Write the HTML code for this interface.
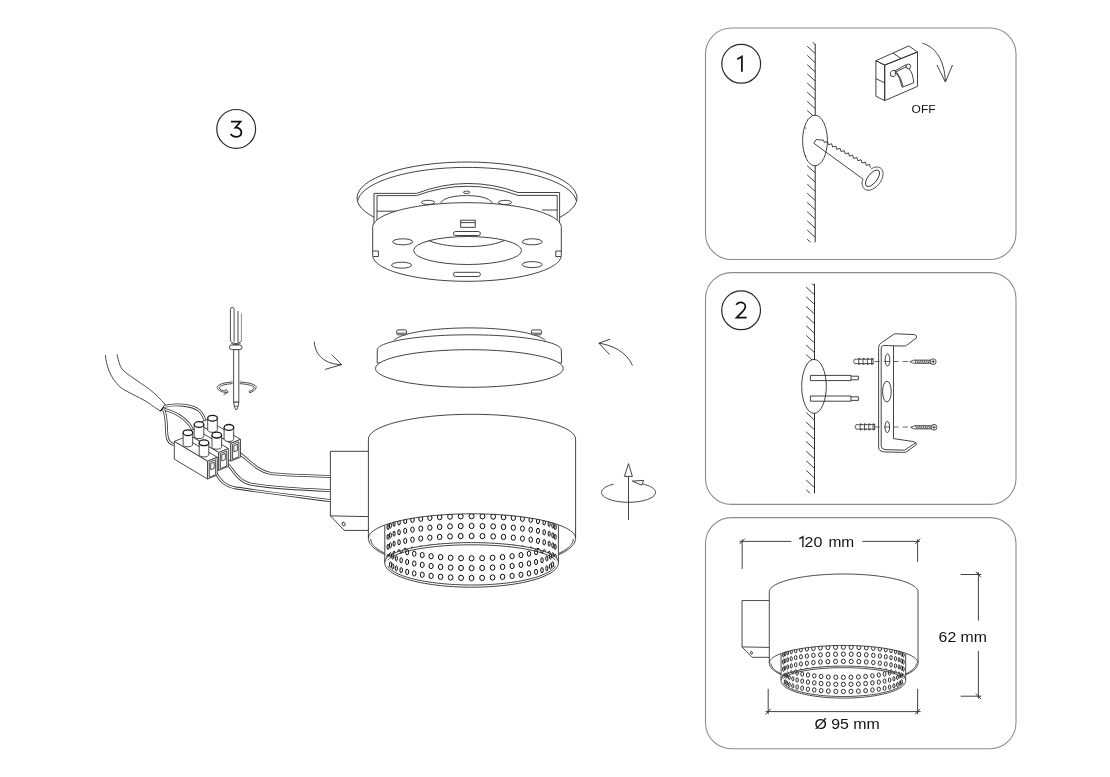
<!DOCTYPE html>
<html><head><meta charset="utf-8"><style>
html,body{margin:0;padding:0;background:#fff;}
body{width:1110px;height:777px;overflow:hidden;}
svg{display:block;will-change:transform;}
text{font-family:"Liberation Sans",sans-serif;}
</style></head><body>
<svg width="1110" height="777" viewBox="0 0 1110 777">
<g fill="none" stroke="#8c8c8c" stroke-width="1.1">
<rect x="705.5" y="28" width="310.5" height="231.5" rx="26" ry="26"/>
<rect x="705.5" y="272.6" width="310.5" height="231.8" rx="26" ry="26"/>
<rect x="705.5" y="517.6" width="310.5" height="231.2" rx="26" ry="26"/>
</g>
<g fill="none" stroke="#2a2a2a" stroke-width="1.2">
<circle cx="236.2" cy="128.9" r="19.4"/>
<circle cx="741.2" cy="63.8" r="19.4"/>
<circle cx="741.1" cy="310.3" r="19.4"/>
</g>
<g fill="none" stroke="#111" stroke-width="1.75" stroke-linejoin="miter">
<path d="M737.3,59.3 L741.9,56.5 V71.8"/>
<path d="M736.2,304.7 C737.2,303.0 738.6,302.3 740.4,302.3 C743.4,302.3 745.4,304.2 745.4,306.6 C745.4,308.4 744.4,309.8 743.0,311.2 L736.6,317.6 H746.7"/>
<path d="M231.0,121.7 H240.5 L235.3,127.7 C239.2,127.5 241.4,129.7 241.4,132.3 C241.4,135.1 239.1,136.8 236.1,136.8 C233.7,136.8 231.7,135.8 230.6,134.1"/>
</g>
<defs><clipPath id="w1"><rect x="800" y="42" width="20" height="200.3"/></clipPath></defs>
<g stroke="#2e2e2e" stroke-width="0.9" fill="none" clip-path="url(#w1)">
<line x1="807.2" y1="46.2" x2="815.2" y2="53.5" />
<line x1="807.2" y1="55.39" x2="815.2" y2="62.69" />
<line x1="807.2" y1="64.58" x2="815.2" y2="71.88" />
<line x1="807.2" y1="73.77" x2="815.2" y2="81.07" />
<line x1="807.2" y1="82.96" x2="815.2" y2="90.26" />
<line x1="807.2" y1="92.15" x2="815.2" y2="99.45" />
<line x1="807.2" y1="101.34" x2="815.2" y2="108.64" />
<line x1="807.2" y1="110.53" x2="815.2" y2="117.83" />
<line x1="807.2" y1="119.72" x2="815.2" y2="127.02" />
<line x1="807.2" y1="128.91" x2="815.2" y2="136.21" />
<line x1="807.2" y1="138.1" x2="815.2" y2="145.4" />
<line x1="807.2" y1="147.29" x2="815.2" y2="154.59" />
<line x1="807.2" y1="156.48" x2="815.2" y2="163.78" />
<line x1="807.2" y1="165.67" x2="815.2" y2="172.97" />
<line x1="807.2" y1="174.86" x2="815.2" y2="182.16" />
<line x1="807.2" y1="184.05" x2="815.2" y2="191.35" />
<line x1="807.2" y1="193.24" x2="815.2" y2="200.54" />
<line x1="807.2" y1="202.43" x2="815.2" y2="209.73" />
<line x1="807.2" y1="211.62" x2="815.2" y2="218.92" />
<line x1="807.2" y1="220.81" x2="815.2" y2="228.11" />
<line x1="807.2" y1="230" x2="815.2" y2="237.3" />
<line x1="807.2" y1="239.19" x2="815.2" y2="246.49" />
<line x1="812.4" y1="42.1" x2="815.2" y2="44.7" />
</g>
<line x1="815.2" y1="43.9" x2="815.2" y2="242.3" stroke="#2e2e2e" stroke-width="1"/>
<ellipse cx="815" cy="140.5" rx="12.4" ry="25.3" fill="#fff" stroke="#2e2e2e" stroke-width="0.9"/>
<line x1="804.6" y1="127.2" x2="806.4" y2="128.8" stroke="#2e2e2e" stroke-width="0.8"/>
<line x1="804.6" y1="154.6" x2="806.4" y2="156.2" stroke="#2e2e2e" stroke-width="0.8"/>
<g stroke="#2e2e2e" stroke-width="0.9" fill="none">
<path d="M813.8,143.2 L816.1,139.6 L823.6,140.2 L824.2,142.4 L827.5,141.48 L828.4,144.69 L831.7,143.77 L832.6,146.98 L835.9,146.06 L836.8,149.27 L840.1,148.35 L841,151.56 L844.3,150.65 L845.2,153.85 L848.5,152.94 L849.4,156.15 L852.7,155.23 L853.6,158.44 L856.9,157.52 L857.8,160.73 L861.1,159.81 L862,163.02 L865.3,162.1 L866.2,165.31 L869.5,164.39 L870.4,167.6"/>
<line x1="813.8" y1="143.2" x2="863.1" y2="179.2" />
</g>
<path stroke="#2e2e2e" stroke-width="0.9" fill="none" d="M871.18,168.86 L871.86,168.47 L872.54,168.13 L873.22,167.82 L873.9,167.57 L874.58,167.36 L875.24,167.2 L875.9,167.09 L876.54,167.03 L877.16,167.01 L877.76,167.05 L878.35,167.14 L878.9,167.27 L879.43,167.45 L879.93,167.69 L880.4,167.97 L880.84,168.29 L881.24,168.66 L881.6,169.07 L881.93,169.52 L882.21,170.01 L882.46,170.54 L882.66,171.1 L882.82,171.69 L882.93,172.32 L883.01,172.97 L883.03,173.64 L883.01,174.34 L882.95,175.05 L882.84,175.78 L882.69,176.52 L882.5,177.27 L882.26,178.03 L881.98,178.78 L881.66,179.54 L881.31,180.3 L880.91,181.04 L880.48,181.78 L880.02,182.5 L879.52,183.21 L879,183.89 L878.45,184.55 L877.87,185.19 L877.27,185.8 L876.65,186.38 L876.01,186.92 L875.36,187.43 L874.69,187.91 L874.02,188.34 L873.34,188.73 L872.66,189.07 L871.98,189.38 L871.3,189.63 L870.62,189.84 L869.96,190 L869.3,190.11 L868.66,190.17 L868.04,190.19 L867.44,190.15 L866.85,190.06 L866.3,189.93 L865.77,189.75 L865.27,189.51 L864.8,189.23 L864.36,188.91 L863.96,188.54 L863.6,188.13 L863.27,187.68 L862.99,187.19 L862.74,186.66 L862.54,186.1 L862.38,185.51 L862.27,184.88 L862.19,184.23 L862.17,183.56 L862.19,182.86 L862.25,182.15 L862.36,181.42 L862.51,180.68 L862.7,179.93 L862.94,179.17"/>
<g stroke="#2e2e2e" stroke-width="0.9" fill="none" transform="translate(872.5,178.3) rotate(-52)">
<ellipse cx="0" cy="0" rx="9.9" ry="4.6"/>
</g>
<g stroke="#2e2e2e" stroke-width="0.9" fill="none" stroke-linejoin="round">
<polygon points="884.7,65.1 917.5,52 917.5,86.4 884.7,100.6" />
<polygon points="875.9,60.7 884.7,65.1 884.7,100.6 875.9,96.3" />
<polygon points="875.9,60.7 908.8,45.9 917.5,52 884.7,65.1" />
<line x1="892.9" y1="53.05" x2="901.1" y2="58.55" />
<line x1="875.9" y1="78.6" x2="884.7" y2="82.9" />
<path d="M890.4,72.4 L892.2,70.6 L895.2,70.5 L895.6,74.6 L893.8,76.7 L890.6,75.9 Z" />
<path d="M895.3,70.7 L906.2,64.6 M895.6,72.0 L906.8,66.6" />
<circle cx="908.3" cy="66.4" r="2.35"/>
<path d="M895.5,71.6 Q900.2,77.5 902.1,87.3 L913.7,82.7 Q913.2,73.5 909.0,68.7" />
<path d="M896.9,72.6 Q901.4,78.4 903.2,86.6" />
</g>
<g stroke="#2e2e2e" stroke-width="0.9" fill="none">
<path d="M922.4,43.2 C934,46.5 944.5,58 945.4,82" />
<polyline points="936.9,65 945.4,82 952.5,65" />
</g>
<text x="911.6" y="112.9" font-size="11" fill="#111" font-family="Liberation Sans, sans-serif" textLength="24" lengthAdjust="spacingAndGlyphs">OFF</text>
<defs><clipPath id="w2"><rect x="800" y="283.3" width="20" height="210"/></clipPath></defs>
<g stroke="#2e2e2e" stroke-width="0.9" fill="none" clip-path="url(#w2)">
<line x1="806.2" y1="287.1" x2="814.4" y2="294.6" />
<line x1="806.2" y1="296.75" x2="814.4" y2="304.25" />
<line x1="806.2" y1="306.4" x2="814.4" y2="313.9" />
<line x1="806.2" y1="316.05" x2="814.4" y2="323.55" />
<line x1="806.2" y1="325.7" x2="814.4" y2="333.2" />
<line x1="806.2" y1="335.35" x2="814.4" y2="342.85" />
<line x1="806.2" y1="345" x2="814.4" y2="352.5" />
<line x1="806.2" y1="354.65" x2="814.4" y2="362.15" />
<line x1="806.2" y1="364.3" x2="814.4" y2="371.8" />
<line x1="806.2" y1="373.95" x2="814.4" y2="381.45" />
<line x1="806.2" y1="383.6" x2="814.4" y2="391.1" />
<line x1="806.2" y1="393.25" x2="814.4" y2="400.75" />
<line x1="806.2" y1="402.9" x2="814.4" y2="410.4" />
<line x1="806.2" y1="412.55" x2="814.4" y2="420.05" />
<line x1="806.2" y1="422.2" x2="814.4" y2="429.7" />
<line x1="806.2" y1="431.85" x2="814.4" y2="439.35" />
<line x1="806.2" y1="441.5" x2="814.4" y2="449" />
<line x1="806.2" y1="451.15" x2="814.4" y2="458.65" />
<line x1="806.2" y1="460.8" x2="814.4" y2="468.3" />
<line x1="806.2" y1="470.45" x2="814.4" y2="477.95" />
<line x1="806.2" y1="480.1" x2="814.4" y2="487.6" />
<line x1="806.2" y1="489.75" x2="814.4" y2="497.25" />
<line x1="811.6" y1="283.3" x2="814.4" y2="285.5" />
</g>
<line x1="814.5" y1="283.8" x2="814.5" y2="493.3" stroke="#2e2e2e" stroke-width="1"/>
<ellipse cx="814" cy="386.4" rx="12.3" ry="27" fill="#fff" stroke="#2e2e2e" stroke-width="0.9"/>
<g stroke="#2e2e2e" stroke-width="0.9" fill="none">
<path d="M810.4,375.4 H851 V380.6 H810.4 Z" />
<path d="M851,376.2 H858.4 V379.8 H851" />
<path d="M810.4,396 H851 V401.2 H810.4 Z" />
<path d="M851,396.8 H858.4 V400.4 H851" />
</g>
<g stroke="#2e2e2e" stroke-width="0.9" fill="none" stroke-linejoin="round">
<path d="M878.6,447.5 V347.5 Q878.6,344.5 881.3,342.8 L893.6,334.4 Q894.6,333.7 896.2,333.8 L914.4,334.6 Q917.3,335.2 916.4,337.9 L906.6,345.3 Q905.6,346 903.8,346 L893.5,345.8 V438.6 L913.6,441.6 Q917.3,442.4 916.4,444.6 L906.8,451.6 Q906,452.4 903.6,452.4 L884.2,451.9 Q878.6,451 878.6,447.5" />
<path d="M881.2,446 V348.2 Q881.2,346.2 883.4,345.4 Q888,345.6 893.5,345.8" />
<path d="M881.2,446 Q881.6,449.3 885,449.6 L904.6,450.2 L915.8,442.6" />
</g>
<ellipse cx="887.5" cy="359.9" rx="2.3" ry="6.2" fill="none" stroke="#2e2e2e" stroke-width="0.9"/>
<ellipse cx="886.9" cy="391.6" rx="4.3" ry="10.4" fill="none" stroke="#2e2e2e" stroke-width="0.9"/>
<ellipse cx="887.3" cy="427" rx="2.3" ry="5.6" fill="none" stroke="#2e2e2e" stroke-width="0.9"/>
<line x1="874.5" y1="361.5" x2="911" y2="361.5" stroke="#444" stroke-width="0.8" stroke-dasharray="5.2,4.2"/>
<line x1="874.5" y1="427.0" x2="911" y2="427.0" stroke="#444" stroke-width="0.8" stroke-dasharray="5.2,4.2"/>
<g stroke="#2e2e2e" stroke-width="0.8" fill="none">
<path d="M854.5,359.2 H873.1 V363.6 H854.5 Q852.5,361.4 854.5,359.2 Z" />
<path d="M858.7,358.2 V364.6 M858.7,358.2 L860.9,359.2 M858.7,364.6 L860.9,363.6" />
<path d="M863,358.2 V364.6 M863,358.2 L865.2,359.2 M863,364.6 L865.2,363.6" />
<path d="M867.3,358.2 V364.6 M867.3,358.2 L869.5,359.2 M867.3,364.6 L869.5,363.6" />
<path d="M871.6,358.2 V364.6 M871.6,358.2 L873.8,359.2 M871.6,364.6 L873.8,363.6" />
</g>
<g stroke="#2e2e2e" stroke-width="0.8" fill="none">
<path d="M856,424.7 H874.6 V429.1 H856 Q854,426.9 856,424.7 Z" />
<path d="M860.2,423.7 V430.1 M860.2,423.7 L862.4,424.7 M860.2,430.1 L862.4,429.1" />
<path d="M864.5,423.7 V430.1 M864.5,423.7 L866.7,424.7 M864.5,430.1 L866.7,429.1" />
<path d="M868.8,423.7 V430.1 M868.8,423.7 L871,424.7 M868.8,430.1 L871,429.1" />
<path d="M873.1,423.7 V430.1 M873.1,423.7 L875.3,424.7 M873.1,430.1 L875.3,429.1" />
</g>
<g stroke="#2e2e2e" stroke-width="0.8" fill="none">
<path d="M909.8,361.7 L913.8,360.1 H931 V363.3 H913.8 Z" />
<line x1="914.8" y1="360.1" x2="916" y2="363.3" />
<line x1="916.65" y1="360.1" x2="917.85" y2="363.3" />
<line x1="918.5" y1="360.1" x2="919.7" y2="363.3" />
<line x1="920.35" y1="360.1" x2="921.55" y2="363.3" />
<line x1="922.2" y1="360.1" x2="923.4" y2="363.3" />
<line x1="924.05" y1="360.1" x2="925.25" y2="363.3" />
<line x1="925.9" y1="360.1" x2="927.1" y2="363.3" />
<line x1="927.75" y1="360.1" x2="928.95" y2="363.3" />
<line x1="929.6" y1="360.1" x2="930.8" y2="363.3" />
<circle cx="933.2" cy="361.7" r="2.9" fill="#fff"/>
<line x1="931.3" y1="361.7" x2="935.1" y2="361.7" />
<line x1="933.2" y1="359.8" x2="933.2" y2="363.6" />
</g>
<g stroke="#2e2e2e" stroke-width="0.8" fill="none">
<path d="M910.6,427.3 L914.6,425.7 H931.8 V428.9 H914.6 Z" />
<line x1="915.6" y1="425.7" x2="916.8" y2="428.9" />
<line x1="917.45" y1="425.7" x2="918.65" y2="428.9" />
<line x1="919.3" y1="425.7" x2="920.5" y2="428.9" />
<line x1="921.15" y1="425.7" x2="922.35" y2="428.9" />
<line x1="923" y1="425.7" x2="924.2" y2="428.9" />
<line x1="924.85" y1="425.7" x2="926.05" y2="428.9" />
<line x1="926.7" y1="425.7" x2="927.9" y2="428.9" />
<line x1="928.55" y1="425.7" x2="929.75" y2="428.9" />
<line x1="930.4" y1="425.7" x2="931.6" y2="428.9" />
<circle cx="934" cy="427.3" r="2.9" fill="#fff"/>
<line x1="932.1" y1="427.3" x2="935.9" y2="427.3" />
<line x1="934" y1="425.4" x2="934" y2="429.2" />
</g>
<g transform="translate(504.9,276.66) scale(0.7177)">
<g stroke="#2e2e2e" stroke-width="1.1913055594259438" fill="none" stroke-linejoin="round">
<path d="M368.4,451.3 H330.4 V515.9 L344.3,530.4 H368.4 M330.4,515.9 L368.4,516.6"/>
<ellipse cx="343.6" cy="524.1" rx="1.4" ry="2.0" transform="rotate(-20 343.6 524.1)"/>
</g>
<path fill="#fff" stroke="none" d="M368.4,439.2 L368.54,437.9 L368.97,436.6 L369.68,435.3 L370.66,434.02 L371.93,432.76 L373.47,431.51 L375.28,430.28 L377.36,429.07 L379.69,427.9 L382.28,426.75 L385.11,425.64 L388.19,424.56 L391.49,423.53 L395.01,422.54 L398.74,421.59 L402.68,420.7 L406.8,419.85 L411.11,419.06 L415.58,418.32 L420.2,417.64 L424.97,417.01 L429.86,416.45 L434.87,415.95 L439.99,415.52 L445.19,415.15 L450.46,414.84 L455.79,414.61 L461.17,414.44 L466.58,414.33 L472,414.3 L477.42,414.33 L482.83,414.44 L488.21,414.61 L493.54,414.84 L498.81,415.15 L504.01,415.52 L509.13,415.95 L514.14,416.45 L519.03,417.01 L523.8,417.64 L528.42,418.32 L532.89,419.06 L537.2,419.85 L541.32,420.7 L545.26,421.59 L548.99,422.54 L552.51,423.53 L555.81,424.56 L558.89,425.64 L561.72,426.75 L564.31,427.9 L566.64,429.07 L568.72,430.28 L570.53,431.51 L572.07,432.76 L573.34,434.02 L574.32,435.3 L575.03,436.6 L575.46,437.9 L575.6,439.2 L575.6,538.3 L368.4,538.3 Z"/>
<path stroke="#2e2e2e" stroke-width="1.1913055594259438" fill="none" d="M368.4,538.3 L368.4,439.2 L368.54,437.9 L368.97,436.6 L369.68,435.3 L370.66,434.02 L371.93,432.76 L373.47,431.51 L375.28,430.28 L377.36,429.07 L379.69,427.9 L382.28,426.75 L385.11,425.64 L388.19,424.56 L391.49,423.53 L395.01,422.54 L398.74,421.59 L402.68,420.7 L406.8,419.85 L411.11,419.06 L415.58,418.32 L420.2,417.64 L424.97,417.01 L429.86,416.45 L434.87,415.95 L439.99,415.52 L445.19,415.15 L450.46,414.84 L455.79,414.61 L461.17,414.44 L466.58,414.33 L472,414.3 L477.42,414.33 L482.83,414.44 L488.21,414.61 L493.54,414.84 L498.81,415.15 L504.01,415.52 L509.13,415.95 L514.14,416.45 L519.03,417.01 L523.8,417.64 L528.42,418.32 L532.89,419.06 L537.2,419.85 L541.32,420.7 L545.26,421.59 L548.99,422.54 L552.51,423.53 L555.81,424.56 L558.89,425.64 L561.72,426.75 L564.31,427.9 L566.64,429.07 L568.72,430.28 L570.53,431.51 L572.07,432.76 L573.34,434.02 L574.32,435.3 L575.03,436.6 L575.46,437.9 L575.6,439.2 L575.6,538.3"/>
<path stroke="#2e2e2e" stroke-width="1.1913055594259438" fill="none" d="M368.4,538.3 L368.54,537.02 L368.97,535.74 L369.68,534.47 L370.66,533.21 L371.93,531.96 L373.47,530.73 L375.28,529.52 L377.36,528.33 L379.69,527.18 L382.28,526.05 L385.11,524.96 L388.19,523.9 L391.49,522.88 L395.01,521.91 L398.74,520.98 L402.68,520.09 L406.8,519.26 L411.11,518.48 L415.58,517.75 L420.2,517.08 L424.97,516.47 L429.86,515.92 L434.87,515.43 L439.99,515 L445.19,514.63 L450.46,514.34 L455.79,514.1 L461.17,513.93 L466.58,513.83 L472,513.8 L477.42,513.83 L482.83,513.93 L488.21,514.1 L493.54,514.34 L498.81,514.63 L504.01,515 L509.13,515.43 L514.14,515.92 L519.03,516.47 L523.8,517.08 L528.42,517.75 L532.89,518.48 L537.2,519.26 L541.32,520.09 L545.26,520.98 L548.99,521.91 L552.51,522.88 L555.81,523.9 L558.89,524.96 L561.72,526.05 L564.31,527.18 L566.64,528.33 L568.72,529.52 L570.53,530.73 L572.07,531.96 L573.34,533.21 L574.32,534.47 L575.03,535.74 L575.46,537.02 L575.6,538.3"/>
<path stroke="#2e2e2e" stroke-width="1.1913055594259438" fill="none" d="M368.4,538.3 L368.49,539.54 L368.75,540.78 L369.2,542.02 L369.82,543.24 L370.61,544.46 L371.58,545.67 L372.72,546.87 L374.03,548.05 L375.5,549.22 L377.15,550.37 L378.95,551.49 L380.92,552.6 L383.04,553.67 L385.31,554.73"/>
<path stroke="#2e2e2e" stroke-width="1.1913055594259438" fill="none" d="M575.6,538.3 L575.51,539.54 L575.25,540.78 L574.8,542.02 L574.18,543.24 L573.39,544.46 L572.42,545.67 L571.28,546.87 L569.97,548.05 L568.5,549.22 L566.85,550.37 L565.05,551.49 L563.08,552.6 L560.96,553.67 L558.69,554.73"/>
<path stroke="#2e2e2e" stroke-width="1.1913055594259438" fill="none" d="M370.7,538.9 L370.78,539.98 L371,541.06 L371.38,542.14 L371.91,543.21 L372.59,544.28 L373.41,545.33 L374.38,546.38 L375.5,547.42 L376.77,548.44 L378.17,549.45 L379.72,550.45 L381.4,551.42 L383.22,552.38 L385.17,553.32"/>
<path stroke="#2e2e2e" stroke-width="1.1913055594259438" fill="none" d="M573.3,538.9 L573.22,539.98 L573,541.06 L572.62,542.14 L572.09,543.21 L571.41,544.28 L570.59,545.33 L569.62,546.38 L568.5,547.42 L567.23,548.44 L565.83,549.45 L564.28,550.45 L562.6,551.42 L560.78,552.38 L558.83,553.32"/>
<defs><clipPath id="LPu"><path d="M384.8,525.07 L387.09,524.26 L389.52,523.48 L392.07,522.71 L394.75,521.97 L397.56,521.26 L400.48,520.58 L403.51,519.92 L406.65,519.29 L409.9,518.69 L413.24,518.12 L416.68,517.59 L420.2,517.08 L423.8,516.61 L427.48,516.18 L431.24,515.78 L435.05,515.41 L438.93,515.08 L442.85,514.79 L446.82,514.53 L450.84,514.32 L454.88,514.14 L458.95,514 L463.05,513.89 L467.15,513.83 L471.27,513.8 L475.38,513.81 L479.49,513.86 L483.59,513.95 L487.67,514.08 L491.73,514.25 L495.75,514.45 L499.74,514.69 L503.68,514.97 L507.58,515.29 L511.41,515.64 L515.19,516.03 L518.89,516.45 L522.53,516.91 L526.08,517.4 L529.55,517.93 L532.92,518.48 L536.2,519.07 L539.38,519.69 L542.46,520.34 L545.42,521.01 L548.26,521.72 L550.99,522.45 L553.59,523.2 L556.06,523.98 L558.4,524.78 L558.4,562 L558.23,560.78 L557.72,559.57 L556.86,558.36 L555.67,557.18 L554.15,556.01 L552.3,554.86 L550.14,553.74 L547.66,552.65 L544.89,551.6 L541.82,550.6 L538.48,549.63 L534.87,548.72 L531.02,547.86 L526.93,547.05 L522.62,546.31 L518.11,545.62 L513.42,545 L508.56,544.45 L503.55,543.96 L498.42,543.55 L493.19,543.21 L487.86,542.94 L482.48,542.75 L477.05,542.64 L471.6,542.6 L466.15,542.64 L460.72,542.75 L455.34,542.94 L450.01,543.21 L444.78,543.55 L439.65,543.96 L434.64,544.45 L429.78,545 L425.09,545.62 L420.58,546.31 L416.27,547.05 L412.18,547.86 L408.33,548.72 L404.72,549.63 L401.38,550.6 L398.31,551.6 L395.54,552.65 L393.06,553.74 L390.9,554.86 L389.05,556.01 L387.53,557.18 L386.34,558.36 L385.48,559.57 L384.97,560.78 L384.8,562 Z"/></clipPath><clipPath id="LPl"><path d="M384.8,562 L384.97,560.78 L385.48,559.57 L386.34,558.36 L387.53,557.18 L389.05,556.01 L390.9,554.86 L393.06,553.74 L395.54,552.65 L398.31,551.6 L401.38,550.6 L404.72,549.63 L408.33,548.72 L412.18,547.86 L416.27,547.05 L420.58,546.31 L425.09,545.62 L429.78,545 L434.64,544.45 L439.65,543.96 L444.78,543.55 L450.01,543.21 L455.34,542.94 L460.72,542.75 L466.15,542.64 L471.6,542.6 L477.05,542.64 L482.48,542.75 L487.86,542.94 L493.19,543.21 L498.42,543.55 L503.55,543.96 L508.56,544.45 L513.42,545 L518.11,545.62 L522.62,546.31 L526.93,547.05 L531.02,547.86 L534.87,548.72 L538.48,549.63 L541.82,550.6 L544.89,551.6 L547.66,552.65 L550.14,553.74 L552.3,554.86 L554.15,556.01 L555.67,557.18 L556.86,558.36 L557.72,559.57 L558.23,560.78 L558.4,562 L558.4,563 L558.23,564.52 L557.72,566.03 L556.86,567.53 L555.67,569.02 L554.15,570.48 L552.3,571.91 L550.14,573.3 L547.66,574.66 L544.89,575.97 L541.82,577.22 L538.48,578.43 L534.87,579.57 L531.02,580.64 L526.93,581.65 L522.62,582.58 L518.11,583.43 L513.42,584.21 L508.56,584.9 L503.55,585.5 L498.42,586.02 L493.19,586.44 L487.86,586.77 L482.48,587.01 L477.05,587.15 L471.6,587.2 L466.15,587.15 L460.72,587.01 L455.34,586.77 L450.01,586.44 L444.78,586.02 L439.65,585.5 L434.64,584.9 L429.78,584.21 L425.09,583.43 L420.58,582.58 L416.27,581.65 L412.18,580.64 L408.33,579.57 L404.72,578.43 L401.38,577.22 L398.31,575.97 L395.54,574.66 L393.06,573.3 L390.9,571.91 L389.05,570.48 L387.53,569.02 L386.34,567.53 L385.48,566.03 L384.97,564.52 L384.8,563 Z"/></clipPath></defs>
<path fill="#fff" d="M384.8,525.07 L384.8,563 L384.8,563 L384.97,564.52 L385.48,566.03 L386.34,567.53 L387.53,569.02 L389.05,570.48 L390.9,571.91 L393.06,573.3 L395.54,574.66 L398.31,575.97 L401.38,577.22 L404.72,578.43 L408.33,579.57 L412.18,580.64 L416.27,581.65 L420.58,582.58 L425.09,583.43 L429.78,584.21 L434.64,584.9 L439.65,585.5 L444.78,586.02 L450.01,586.44 L455.34,586.77 L460.72,587.01 L466.15,587.15 L471.6,587.2 L477.05,587.15 L482.48,587.01 L487.86,586.77 L493.19,586.44 L498.42,586.02 L503.55,585.5 L508.56,584.9 L513.42,584.21 L518.11,583.43 L522.62,582.58 L526.93,581.65 L531.02,580.64 L534.87,579.57 L538.48,578.43 L541.82,577.22 L544.89,575.97 L547.66,574.66 L550.14,573.3 L552.3,571.91 L554.15,570.48 L555.67,569.02 L556.86,567.53 L557.72,566.03 L558.23,564.52 L558.4,563 L558.4,525.07 Z"/>
<g stroke="#0a0a0a" stroke-width="1.1843388602480145" fill="none" clip-path="url(#LPu)">
<ellipse cx="388.05" cy="527.09" rx="1.18" ry="3.05"/>
<ellipse cx="390.37" cy="525.47" rx="1.18" ry="3.05"/>
<ellipse cx="394.05" cy="523.92" rx="1.18" ry="3.05"/>
<ellipse cx="399.02" cy="522.45" rx="1.44" ry="3.05"/>
<ellipse cx="405.2" cy="521.08" rx="1.74" ry="3.05"/>
<ellipse cx="412.48" cy="519.85" rx="2.01" ry="3.05"/>
<ellipse cx="420.75" cy="518.78" rx="2.25" ry="3.05"/>
<ellipse cx="429.86" cy="517.87" rx="2.45" ry="3.05"/>
<ellipse cx="439.67" cy="517.15" rx="2.61" ry="3.05"/>
<ellipse cx="450.01" cy="516.62" rx="2.72" ry="3.05"/>
<ellipse cx="460.72" cy="516.31" rx="2.79" ry="3.05"/>
<ellipse cx="471.6" cy="516.2" rx="2.82" ry="3.05"/>
<ellipse cx="482.48" cy="516.31" rx="2.79" ry="3.05"/>
<ellipse cx="493.19" cy="516.62" rx="2.72" ry="3.05"/>
<ellipse cx="503.53" cy="517.15" rx="2.61" ry="3.05"/>
<ellipse cx="513.34" cy="517.87" rx="2.45" ry="3.05"/>
<ellipse cx="522.45" cy="518.78" rx="2.25" ry="3.05"/>
<ellipse cx="530.72" cy="519.85" rx="2.01" ry="3.05"/>
<ellipse cx="538" cy="521.08" rx="1.74" ry="3.05"/>
<ellipse cx="544.18" cy="522.45" rx="1.44" ry="3.05"/>
<ellipse cx="549.15" cy="523.92" rx="1.18" ry="3.05"/>
<ellipse cx="552.83" cy="525.47" rx="1.18" ry="3.05"/>
<ellipse cx="555.15" cy="527.09" rx="1.18" ry="3.05"/>
<ellipse cx="388.05" cy="536.89" rx="1.18" ry="3.05"/>
<ellipse cx="390.37" cy="535.27" rx="1.18" ry="3.05"/>
<ellipse cx="394.05" cy="533.72" rx="1.18" ry="3.05"/>
<ellipse cx="399.02" cy="532.25" rx="1.44" ry="3.05"/>
<ellipse cx="405.2" cy="530.88" rx="1.74" ry="3.05"/>
<ellipse cx="412.48" cy="529.65" rx="2.01" ry="3.05"/>
<ellipse cx="420.75" cy="528.58" rx="2.25" ry="3.05"/>
<ellipse cx="429.86" cy="527.67" rx="2.45" ry="3.05"/>
<ellipse cx="439.67" cy="526.95" rx="2.61" ry="3.05"/>
<ellipse cx="450.01" cy="526.42" rx="2.72" ry="3.05"/>
<ellipse cx="460.72" cy="526.11" rx="2.79" ry="3.05"/>
<ellipse cx="471.6" cy="526" rx="2.82" ry="3.05"/>
<ellipse cx="482.48" cy="526.11" rx="2.79" ry="3.05"/>
<ellipse cx="493.19" cy="526.42" rx="2.72" ry="3.05"/>
<ellipse cx="503.53" cy="526.95" rx="2.61" ry="3.05"/>
<ellipse cx="513.34" cy="527.67" rx="2.45" ry="3.05"/>
<ellipse cx="522.45" cy="528.58" rx="2.25" ry="3.05"/>
<ellipse cx="530.72" cy="529.65" rx="2.01" ry="3.05"/>
<ellipse cx="538" cy="530.88" rx="1.74" ry="3.05"/>
<ellipse cx="544.18" cy="532.25" rx="1.44" ry="3.05"/>
<ellipse cx="549.15" cy="533.72" rx="1.18" ry="3.05"/>
<ellipse cx="552.83" cy="535.27" rx="1.18" ry="3.05"/>
<ellipse cx="555.15" cy="536.89" rx="1.18" ry="3.05"/>
<ellipse cx="388.05" cy="546.89" rx="1.18" ry="3.05"/>
<ellipse cx="390.37" cy="545.27" rx="1.18" ry="3.05"/>
<ellipse cx="394.05" cy="543.72" rx="1.18" ry="3.05"/>
<ellipse cx="399.02" cy="542.25" rx="1.44" ry="3.05"/>
<ellipse cx="405.2" cy="540.88" rx="1.74" ry="3.05"/>
<ellipse cx="412.48" cy="539.65" rx="2.01" ry="3.05"/>
<ellipse cx="420.75" cy="538.58" rx="2.25" ry="3.05"/>
<ellipse cx="429.86" cy="537.67" rx="2.45" ry="3.05"/>
<ellipse cx="439.67" cy="536.95" rx="2.61" ry="3.05"/>
<ellipse cx="450.01" cy="536.42" rx="2.72" ry="3.05"/>
<ellipse cx="460.72" cy="536.11" rx="2.79" ry="3.05"/>
<ellipse cx="471.6" cy="536" rx="2.82" ry="3.05"/>
<ellipse cx="482.48" cy="536.11" rx="2.79" ry="3.05"/>
<ellipse cx="493.19" cy="536.42" rx="2.72" ry="3.05"/>
<ellipse cx="503.53" cy="536.95" rx="2.61" ry="3.05"/>
<ellipse cx="513.34" cy="537.67" rx="2.45" ry="3.05"/>
<ellipse cx="522.45" cy="538.58" rx="2.25" ry="3.05"/>
<ellipse cx="530.72" cy="539.65" rx="2.01" ry="3.05"/>
<ellipse cx="538" cy="540.88" rx="1.74" ry="3.05"/>
<ellipse cx="544.18" cy="542.25" rx="1.44" ry="3.05"/>
<ellipse cx="549.15" cy="543.72" rx="1.18" ry="3.05"/>
<ellipse cx="552.83" cy="545.27" rx="1.18" ry="3.05"/>
<ellipse cx="555.15" cy="546.89" rx="1.18" ry="3.05"/>
<ellipse cx="388.05" cy="556.89" rx="1.18" ry="3.05"/>
<ellipse cx="390.37" cy="555.27" rx="1.18" ry="3.05"/>
<ellipse cx="394.05" cy="553.72" rx="1.18" ry="3.05"/>
<ellipse cx="399.02" cy="552.25" rx="1.44" ry="3.05"/>
<ellipse cx="405.2" cy="550.88" rx="1.74" ry="3.05"/>
<ellipse cx="412.48" cy="549.65" rx="2.01" ry="3.05"/>
<ellipse cx="420.75" cy="548.58" rx="2.25" ry="3.05"/>
<ellipse cx="429.86" cy="547.67" rx="2.45" ry="3.05"/>
<ellipse cx="439.67" cy="546.95" rx="2.61" ry="3.05"/>
<ellipse cx="450.01" cy="546.42" rx="2.72" ry="3.05"/>
<ellipse cx="460.72" cy="546.11" rx="2.79" ry="3.05"/>
<ellipse cx="471.6" cy="546" rx="2.82" ry="3.05"/>
<ellipse cx="482.48" cy="546.11" rx="2.79" ry="3.05"/>
<ellipse cx="493.19" cy="546.42" rx="2.72" ry="3.05"/>
<ellipse cx="503.53" cy="546.95" rx="2.61" ry="3.05"/>
<ellipse cx="513.34" cy="547.67" rx="2.45" ry="3.05"/>
<ellipse cx="522.45" cy="548.58" rx="2.25" ry="3.05"/>
<ellipse cx="530.72" cy="549.65" rx="2.01" ry="3.05"/>
<ellipse cx="538" cy="550.88" rx="1.74" ry="3.05"/>
<ellipse cx="544.18" cy="552.25" rx="1.44" ry="3.05"/>
<ellipse cx="549.15" cy="553.72" rx="1.18" ry="3.05"/>
<ellipse cx="552.83" cy="555.27" rx="1.18" ry="3.05"/>
<ellipse cx="555.15" cy="556.89" rx="1.18" ry="3.05"/>
</g>
<g stroke="#0a0a0a" stroke-width="1.1843388602480145" fill="none" clip-path="url(#LPl)">
<ellipse cx="390.52" cy="544.69" rx="1.18" ry="3.05"/>
<ellipse cx="392.78" cy="546.71" rx="1.18" ry="3.05"/>
<ellipse cx="396.34" cy="548.65" rx="1.18" ry="3.05"/>
<ellipse cx="401.17" cy="550.49" rx="1.44" ry="3.05"/>
<ellipse cx="407.16" cy="552.19" rx="1.74" ry="3.05"/>
<ellipse cx="414.23" cy="553.73" rx="2.01" ry="3.05"/>
<ellipse cx="422.25" cy="555.08" rx="2.25" ry="3.05"/>
<ellipse cx="431.1" cy="556.21" rx="2.45" ry="3.05"/>
<ellipse cx="440.62" cy="557.11" rx="2.61" ry="3.05"/>
<ellipse cx="450.65" cy="557.77" rx="2.72" ry="3.05"/>
<ellipse cx="461.04" cy="558.17" rx="2.79" ry="3.05"/>
<ellipse cx="471.6" cy="558.3" rx="2.82" ry="3.05"/>
<ellipse cx="482.16" cy="558.17" rx="2.79" ry="3.05"/>
<ellipse cx="492.55" cy="557.77" rx="2.72" ry="3.05"/>
<ellipse cx="502.58" cy="557.11" rx="2.61" ry="3.05"/>
<ellipse cx="512.1" cy="556.21" rx="2.45" ry="3.05"/>
<ellipse cx="520.95" cy="555.08" rx="2.25" ry="3.05"/>
<ellipse cx="528.97" cy="553.73" rx="2.01" ry="3.05"/>
<ellipse cx="536.04" cy="552.19" rx="1.74" ry="3.05"/>
<ellipse cx="542.03" cy="550.49" rx="1.44" ry="3.05"/>
<ellipse cx="546.86" cy="548.65" rx="1.18" ry="3.05"/>
<ellipse cx="550.42" cy="546.71" rx="1.18" ry="3.05"/>
<ellipse cx="552.68" cy="544.69" rx="1.18" ry="3.05"/>
<ellipse cx="390.52" cy="554.49" rx="1.18" ry="3.05"/>
<ellipse cx="392.78" cy="556.51" rx="1.18" ry="3.05"/>
<ellipse cx="396.34" cy="558.45" rx="1.18" ry="3.05"/>
<ellipse cx="401.17" cy="560.29" rx="1.44" ry="3.05"/>
<ellipse cx="407.16" cy="561.99" rx="1.74" ry="3.05"/>
<ellipse cx="414.23" cy="563.53" rx="2.01" ry="3.05"/>
<ellipse cx="422.25" cy="564.88" rx="2.25" ry="3.05"/>
<ellipse cx="431.1" cy="566.01" rx="2.45" ry="3.05"/>
<ellipse cx="440.62" cy="566.91" rx="2.61" ry="3.05"/>
<ellipse cx="450.65" cy="567.57" rx="2.72" ry="3.05"/>
<ellipse cx="461.04" cy="567.97" rx="2.79" ry="3.05"/>
<ellipse cx="471.6" cy="568.1" rx="2.82" ry="3.05"/>
<ellipse cx="482.16" cy="567.97" rx="2.79" ry="3.05"/>
<ellipse cx="492.55" cy="567.57" rx="2.72" ry="3.05"/>
<ellipse cx="502.58" cy="566.91" rx="2.61" ry="3.05"/>
<ellipse cx="512.1" cy="566.01" rx="2.45" ry="3.05"/>
<ellipse cx="520.95" cy="564.88" rx="2.25" ry="3.05"/>
<ellipse cx="528.97" cy="563.53" rx="2.01" ry="3.05"/>
<ellipse cx="536.04" cy="561.99" rx="1.74" ry="3.05"/>
<ellipse cx="542.03" cy="560.29" rx="1.44" ry="3.05"/>
<ellipse cx="546.86" cy="558.45" rx="1.18" ry="3.05"/>
<ellipse cx="550.42" cy="556.51" rx="1.18" ry="3.05"/>
<ellipse cx="552.68" cy="554.49" rx="1.18" ry="3.05"/>
<ellipse cx="390.52" cy="564.39" rx="1.18" ry="3.05"/>
<ellipse cx="392.78" cy="566.41" rx="1.18" ry="3.05"/>
<ellipse cx="396.34" cy="568.35" rx="1.18" ry="3.05"/>
<ellipse cx="401.17" cy="570.19" rx="1.44" ry="3.05"/>
<ellipse cx="407.16" cy="571.89" rx="1.74" ry="3.05"/>
<ellipse cx="414.23" cy="573.43" rx="2.01" ry="3.05"/>
<ellipse cx="422.25" cy="574.78" rx="2.25" ry="3.05"/>
<ellipse cx="431.1" cy="575.91" rx="2.45" ry="3.05"/>
<ellipse cx="440.62" cy="576.81" rx="2.61" ry="3.05"/>
<ellipse cx="450.65" cy="577.47" rx="2.72" ry="3.05"/>
<ellipse cx="461.04" cy="577.87" rx="2.79" ry="3.05"/>
<ellipse cx="471.6" cy="578" rx="2.82" ry="3.05"/>
<ellipse cx="482.16" cy="577.87" rx="2.79" ry="3.05"/>
<ellipse cx="492.55" cy="577.47" rx="2.72" ry="3.05"/>
<ellipse cx="502.58" cy="576.81" rx="2.61" ry="3.05"/>
<ellipse cx="512.1" cy="575.91" rx="2.45" ry="3.05"/>
<ellipse cx="520.95" cy="574.78" rx="2.25" ry="3.05"/>
<ellipse cx="528.97" cy="573.43" rx="2.01" ry="3.05"/>
<ellipse cx="536.04" cy="571.89" rx="1.74" ry="3.05"/>
<ellipse cx="542.03" cy="570.19" rx="1.44" ry="3.05"/>
<ellipse cx="546.86" cy="568.35" rx="1.18" ry="3.05"/>
<ellipse cx="550.42" cy="566.41" rx="1.18" ry="3.05"/>
<ellipse cx="552.68" cy="564.39" rx="1.18" ry="3.05"/>
</g>
<g stroke="#2e2e2e" stroke-width="1.1913055594259438" fill="none">
<path d="M384.8,525.07 V563 M558.4,525.07 V563"/>
<path d="M558.4,563 L558.28,564.27 L557.92,565.53 L557.33,566.79 L556.5,568.03 L555.44,569.26 L554.15,570.48 L552.63,571.67 L550.9,572.84 L548.94,573.99 L546.77,575.1 L544.4,576.18 L541.82,577.22 L539.06,578.23 L536.1,579.19 L532.98,580.11 L529.68,580.98 L526.23,581.81 L522.62,582.58 L518.87,583.3 L515,583.96 L511.01,584.56 L506.9,585.11 L502.71,585.59 L498.42,586.02 L494.07,586.38 L489.65,586.67 L485.18,586.9 L480.67,587.07 L476.14,587.17 L471.6,587.2 L467.06,587.17 L462.53,587.07 L458.02,586.9 L453.55,586.67 L449.13,586.38 L444.78,586.02 L440.49,585.59 L436.3,585.11 L432.19,584.56 L428.2,583.96 L424.33,583.3 L420.58,582.58 L416.97,581.81 L413.52,580.98 L410.22,580.11 L407.1,579.19 L404.14,578.23 L401.38,577.22 L398.8,576.18 L396.43,575.1 L394.26,573.99 L392.3,572.84 L390.57,571.67 L389.05,570.48 L387.76,569.26 L386.7,568.03 L385.87,566.79 L385.28,565.53 L384.92,564.27 L384.8,563"/>
<path d="M555.38,566.06 L554.72,567.1 L553.87,568.12 L552.84,569.14 L551.62,570.14 L550.22,571.12 L548.64,572.09 L546.89,573.03 L544.96,573.96 L542.87,574.85 L540.62,575.72 L538.21,576.56 L535.64,577.38 L532.93,578.15 L530.08,578.9 L527.1,579.6 L523.99,580.27 L520.77,580.9 L517.43,581.49 L513.99,582.04 L510.45,582.54 L506.82,583 L503.11,583.42 L499.33,583.78 L495.49,584.1 L491.59,584.38 L487.65,584.6 L483.67,584.78 L479.66,584.9 L475.63,584.97 L471.6,585 L467.57,584.97 L463.54,584.9 L459.53,584.78 L455.55,584.6 L451.61,584.38 L447.71,584.1 L443.87,583.78 L440.09,583.42 L436.38,583 L432.75,582.54 L429.21,582.04 L425.77,581.49 L422.43,580.9 L419.21,580.27 L416.1,579.6 L413.12,578.9 L410.27,578.15 L407.56,577.38 L404.99,576.56 L402.58,575.72 L400.33,574.85 L398.24,573.96 L396.31,573.03 L394.56,572.09 L392.98,571.12 L391.58,570.14 L390.36,569.14 L389.33,568.12 L388.48,567.1 L387.82,566.06"/>
<path d="M384.8,562 L384.92,560.98 L385.28,559.97 L385.87,558.97 L386.7,557.97 L387.76,556.98 L389.05,556.01 L390.57,555.05 L392.3,554.11 L394.26,553.19 L396.43,552.3 L398.8,551.43 L401.38,550.6 L404.14,549.79 L407.1,549.02 L410.22,548.28 L413.52,547.58 L416.97,546.92 L420.58,546.31 L424.33,545.73 L428.2,545.2 L432.19,544.71 L436.3,544.28 L440.49,543.89 L444.78,543.55 L449.13,543.26 L453.55,543.02 L458.02,542.84 L462.53,542.71 L467.06,542.63 L471.6,542.6 L476.14,542.63 L480.67,542.71 L485.18,542.84 L489.65,543.02 L494.07,543.26 L498.42,543.55 L502.71,543.89 L506.9,544.28 L511.01,544.71 L515,545.2 L518.87,545.73 L522.62,546.31 L526.23,546.92 L529.68,547.58 L532.98,548.28 L536.1,549.02 L539.06,549.79 L541.82,550.6 L544.4,551.43 L546.77,552.3 L548.94,553.19 L550.9,554.11 L552.63,555.05 L554.15,556.01 L555.44,556.98 L556.5,557.97 L557.33,558.97 L557.92,559.97 L558.28,560.98 L558.4,562"/>
<path d="M387.6,560.34 L388.38,559.48 L389.34,558.63 L390.47,557.79 L391.79,556.96 L393.28,556.15 L394.93,555.36 L396.76,554.58 L398.74,553.82 L400.88,553.09 L403.18,552.37 L405.62,551.68 L408.21,551.02 L410.93,550.38 L413.79,549.78 L416.77,549.2 L419.87,548.65 L423.08,548.14 L426.4,547.66 L429.81,547.21 L433.32,546.8 L436.91,546.43 L440.57,546.09 L444.3,545.79 L448.09,545.53 L451.93,545.31 L455.81,545.12 L459.73,544.98 L463.67,544.88 L467.63,544.82 L471.6,544.8 L475.57,544.82 L479.53,544.88 L483.47,544.98 L487.39,545.12 L491.27,545.31 L495.11,545.53 L498.9,545.79 L502.63,546.09 L506.29,546.43 L509.88,546.8 L513.39,547.21 L516.8,547.66 L520.12,548.14 L523.33,548.65 L526.43,549.2 L529.41,549.78 L532.27,550.38 L534.99,551.02 L537.58,551.68 L540.02,552.37 L542.32,553.09 L544.46,553.82 L546.44,554.58 L548.27,555.36 L549.92,556.15 L551.41,556.96 L552.73,557.79 L553.86,558.63 L554.82,559.48 L555.6,560.34"/>
</g>
</g>
<g stroke="#2e2e2e" stroke-width="0.9" fill="none">
<line x1="739.5" y1="541.4" x2="791.4" y2="541.4" />
<line x1="862.4" y1="541.4" x2="920" y2="541.4" />
<line x1="742.2" y1="539.4" x2="742.2" y2="568.9" />
<line x1="917.6" y1="539.4" x2="917.6" y2="561.8" />
<line x1="739.6" y1="544.2" x2="744.8" y2="538.6" />
<line x1="915" y1="544.2" x2="920.2" y2="538.6" />
<line x1="978.4" y1="572" x2="978.4" y2="620.6" />
<line x1="978.4" y1="650.9" x2="978.4" y2="698.5" />
<line x1="960.7" y1="574.5" x2="981.3" y2="574.5" />
<line x1="960.7" y1="696.2" x2="981.3" y2="696.2" />
<line x1="975.8" y1="571.8" x2="981" y2="577.2" />
<line x1="975.8" y1="693.6" x2="981" y2="699" />
<line x1="765.6" y1="711.6" x2="920.6" y2="711.6" />
<line x1="768.2" y1="688.8" x2="768.2" y2="714.2" />
<line x1="917.6" y1="688.8" x2="917.6" y2="714.2" />
<line x1="765.6" y1="714.4" x2="770.8" y2="708.8" />
<line x1="915" y1="714.4" x2="920.2" y2="708.8" />
</g>
<path d="M799.3,538.9 L802.9,536.7 V547.2" fill="none" stroke="#111" stroke-width="1.3"/>
<text x="804.6" y="547.2" font-size="15" font-family="Liberation Sans, sans-serif" fill="#111" textLength="17.8" lengthAdjust="spacingAndGlyphs">20</text>
<text x="828.4" y="547.2" font-size="15" font-family="Liberation Sans, sans-serif" fill="#111" textLength="25.8" lengthAdjust="spacingAndGlyphs">mm</text>
<text x="938.6" y="641.8" font-size="15" font-family="Liberation Sans, sans-serif" fill="#111" textLength="48.4" lengthAdjust="spacingAndGlyphs">62 mm</text>
<text x="814.4" y="729.2" font-size="15" font-family="Liberation Sans, sans-serif" fill="#111" textLength="65.4" lengthAdjust="spacingAndGlyphs">Ø 95 mm</text>
<g stroke="#2e2e2e" stroke-width="0.9" fill="none">
<ellipse cx="467" cy="198" rx="110" ry="36" fill="#fff"/>
<path d="M357.67,200.89 L358.19,199.1 L358.98,197.31 L360.04,195.55 L361.37,193.8 L362.96,192.08 L364.82,190.38 L366.93,188.72 L369.29,187.09 L371.89,185.51 L374.74,183.97 L377.81,182.48 L381.11,181.04 L384.62,179.66 L388.34,178.33 L392.25,177.07 L396.36,175.88 L400.63,174.75 L405.08,173.7 L409.68,172.72 L414.42,171.81 L419.3,170.99 L424.29,170.25 L429.39,169.59 L434.59,169.01 L439.87,168.52 L445.21,168.12 L450.61,167.8 L456.05,167.58 L461.52,167.45 L467,167.4 L472.48,167.45 L477.95,167.58 L483.39,167.8 L488.79,168.12 L494.13,168.52 L499.41,169.01 L504.61,169.59 L509.71,170.25 L514.7,170.99 L519.58,171.81 L524.32,172.72 L528.92,173.7 L533.37,174.75 L537.64,175.88 L541.75,177.07 L545.66,178.33 L549.38,179.66 L552.89,181.04 L556.19,182.48 L559.26,183.97 L562.11,185.51 L564.71,187.09 L567.07,188.72 L569.18,190.38 L571.04,192.08 L572.63,193.8 L573.96,195.55 L575.02,197.31 L575.81,199.1 L576.33,200.89"/>
</g>
<path fill="#fff" stroke="none" d="M374,193.4 H416.5 Q467,174 518,192.5 H559.6 V235 H374 Z"/>
<g stroke="#2e2e2e" stroke-width="0.9" fill="none" stroke-linejoin="round">
<path d="M374,235 V193.4 H416.5 Q467,174 518,192.5 H559.6 V235"/>
<path d="M377,224 V195.6 H416.5 Q467,177 518,195.4 H557.2 V222"/>
<line x1="377" y1="211.2" x2="397.6" y2="211.2" />
<line x1="542" y1="210" x2="557.2" y2="210" />
<path d="M440.7,202.8 C444,197.5 455,195.6 466.5,195.6 C478,195.6 489,197.5 492.3,202.8"/>
<ellipse cx="466.6" cy="192.3" rx="3.4" ry="1.2"/>
<ellipse cx="428" cy="202.4" rx="6.6" ry="2.1"/>
<ellipse cx="505" cy="202.4" rx="6.6" ry="2.1"/>
</g>
<path stroke="#2e2e2e" stroke-width="0.9" fill="#fff" d="M372.7,227.3 L372.79,226.2 L373.08,225.09 L373.55,224 L374.22,222.91 L375.06,221.83 L376.1,220.76 L377.32,219.7 L378.71,218.66 L380.29,217.63 L382.04,216.63 L383.96,215.64 L386.05,214.68 L388.3,213.75 L390.71,212.84 L393.27,211.96 L395.99,211.11 L398.84,210.3 L401.83,209.52 L404.96,208.77 L408.2,208.07 L411.57,207.4 L415.05,206.77 L418.63,206.18 L422.31,205.64 L426.08,205.14 L429.94,204.68 L433.87,204.27 L437.86,203.9 L441.91,203.59 L446.02,203.32 L450.16,203.1 L454.34,202.92 L458.55,202.8 L462.77,202.72 L467,202.7 L471.23,202.72 L475.45,202.8 L479.66,202.92 L483.84,203.1 L487.98,203.32 L492.09,203.59 L496.14,203.9 L500.13,204.27 L504.06,204.68 L507.92,205.14 L511.69,205.64 L515.37,206.18 L518.95,206.77 L522.43,207.4 L525.8,208.07 L529.04,208.77 L532.17,209.52 L535.16,210.3 L538.01,211.11 L540.73,211.96 L543.29,212.84 L545.7,213.75 L547.95,214.68 L550.04,215.64 L551.96,216.63 L553.71,217.63 L555.29,218.66 L556.68,219.7 L557.9,220.76 L558.94,221.83 L559.78,222.91 L560.45,224 L560.92,225.09 L561.21,226.2 L561.3,227.3 L561.3,255.3 L561.21,256.47 L560.92,257.63 L560.45,258.79 L559.78,259.94 L558.94,261.09 L557.9,262.22 L556.68,263.33 L555.29,264.44 L553.71,265.52 L551.96,266.58 L550.04,267.62 L547.95,268.64 L545.7,269.62 L543.29,270.58 L540.73,271.51 L538.01,272.41 L535.16,273.27 L532.17,274.09 L529.04,274.88 L525.8,275.63 L522.43,276.33 L518.95,277 L515.37,277.62 L511.69,278.2 L507.92,278.73 L504.06,279.21 L500.13,279.64 L496.14,280.03 L492.09,280.36 L487.98,280.65 L483.84,280.88 L479.66,281.06 L475.45,281.2 L471.23,281.27 L467,281.3 L462.77,281.27 L458.55,281.2 L454.34,281.06 L450.16,280.88 L446.02,280.65 L441.91,280.36 L437.86,280.03 L433.87,279.64 L429.94,279.21 L426.08,278.73 L422.31,278.2 L418.63,277.62 L415.05,277 L411.57,276.33 L408.2,275.63 L404.96,274.88 L401.83,274.09 L398.84,273.27 L395.99,272.41 L393.27,271.51 L390.71,270.58 L388.3,269.62 L386.05,268.64 L383.96,267.62 L382.04,266.58 L380.29,265.52 L378.71,264.44 L377.32,263.33 L376.1,262.22 L375.06,261.09 L374.22,259.94 L373.55,258.79 L373.08,257.63 L372.79,256.47 L372.7,255.3 Z"/>
<g stroke="#2e2e2e" stroke-width="0.9" fill="none">
<ellipse cx="467.6" cy="250.5" rx="54" ry="14"/>
<path d="M428.6,240.6 C440,245.4 455,246.6 466.9,246.6 C479,246.6 493,245.4 504.2,240.6"/>
<ellipse cx="402.7" cy="241.8" rx="10" ry="3"/>
<ellipse cx="532.2" cy="241.8" rx="10" ry="3"/>
<ellipse cx="401.6" cy="265.2" rx="10" ry="3"/>
<ellipse cx="532.2" cy="264.6" rx="10" ry="3"/>
<rect x="453.4" y="231.5" width="27" height="4" rx="2"/>
<rect x="453.4" y="272.3" width="27" height="4.2" rx="2.1"/>
<rect x="460.7" y="220.2" width="14.5" height="7.1"/>
<line x1="460.7" y1="222.6" x2="475.2" y2="222.6" />
<path d="M372.8,251 H378.4 V256.5 H373.2"/>
<path d="M561.4,251 H555.8 V256.5 H561"/>
</g>
<g stroke="#2e2e2e" stroke-width="0.9" fill="none">
<path fill="#fff" d="M377.2,363 L377.3,350 L377.43,349.2 L377.8,348.41 L378.43,347.62 L379.31,346.84 L380.43,346.07 L381.8,345.3 L383.41,344.55 L385.25,343.82 L387.33,343.1 L389.63,342.4 L392.14,341.72 L394.87,341.07 L397.8,340.43 L400.93,339.83 L404.25,339.25 L407.74,338.7 L411.4,338.19 L415.22,337.7 L419.19,337.25 L423.3,336.84 L427.53,336.46 L431.88,336.11 L436.33,335.81 L440.87,335.54 L445.49,335.32 L450.17,335.13 L454.91,334.99 L459.68,334.88 L464.49,334.82 L469.3,334.8 L474.11,334.82 L478.92,334.88 L483.69,334.99 L488.43,335.13 L493.11,335.32 L497.73,335.54 L502.27,335.81 L506.72,336.11 L511.07,336.46 L515.3,336.84 L519.41,337.25 L523.38,337.7 L527.2,338.19 L530.86,338.7 L534.35,339.25 L537.67,339.83 L540.8,340.43 L543.73,341.07 L546.46,341.72 L548.97,342.4 L551.27,343.1 L553.35,343.82 L555.19,344.55 L556.8,345.3 L558.17,346.07 L559.29,346.84 L560.17,347.62 L560.8,348.41 L561.17,349.2 L561.3,350 L561.6,363 Z"/>
<path d="M393.67,340.54 L394.53,339.71 L395.63,338.88 L396.96,338.07 L398.52,337.27 L400.29,336.49 L402.29,335.74 L404.49,335 L406.89,334.29 L409.49,333.61 L412.28,332.96 L415.24,332.34 L418.38,331.76 L421.67,331.21 L425.11,330.7 L428.7,330.22 L432.4,329.79 L436.23,329.4 L440.16,329.05 L444.18,328.75 L448.28,328.49 L452.44,328.28 L456.66,328.11 L460.92,328 L465.2,327.92 L469.5,327.9 L473.8,327.92 L478.08,328 L482.34,328.11 L486.56,328.28 L490.72,328.49 L494.82,328.75 L498.84,329.05 L502.77,329.4 L506.6,329.79 L510.3,330.22 L513.89,330.7 L517.33,331.21 L520.62,331.76 L523.76,332.34 L526.72,332.96 L529.51,333.61 L532.11,334.29 L534.51,335 L536.71,335.74 L538.71,336.49 L540.48,337.27 L542.04,338.07 L543.37,338.88 L544.47,339.71 L545.33,340.54"/>
<rect x="396.7" y="329.9" width="9.9" height="4.9" rx="1.2" fill="#fff"/>
<line x1="397.3" y1="333.2" x2="406" y2="333.2" />
<rect x="531.5" y="329.9" width="9.9" height="4.9" rx="1.2" fill="#fff"/>
<line x1="532.1" y1="333.2" x2="540.8" y2="333.2" />
<ellipse cx="469.4" cy="368.5" rx="93.9" ry="18.8" fill="#fff"/>
</g>
<g stroke="#2e2e2e" stroke-width="0.9" fill="none">
<path d="M314.3,341.6 C315,356 326,364.5 341.7,364.6"/>
<path d="M331.7,354.7 L341.7,364.6 L325.1,369.4"/>
<path d="M598.9,343.2 C612,345 627,352 632.5,365.6"/>
<path d="M610.1,339.2 L598.9,343.2 L609.7,354.6"/>
<line x1="628.5" y1="476.4" x2="628.5" y2="519.9" />
<path d="M628.5,463.6 L624.4,476.4 L632.4,476.4 Z" fill="#fff"/>
<path d="M642.81,484 L644.25,484.36 L645.62,484.74 L646.92,485.16 L648.15,485.61 L649.3,486.09 L650.36,486.59 L651.33,487.11 L652.21,487.66 L652.99,488.23 L653.66,488.81 L654.24,489.41 L654.71,490.02 L655.07,490.64 L655.32,491.27 L655.47,491.9 L655.5,492.54 L655.42,493.17 L655.23,493.8 L654.93,494.43 L654.52,495.05 L654,495.65 L653.38,496.24 L652.66,496.82 L651.84,497.38 L650.92,497.92 L649.91,498.43 L648.81,498.92 L647.63,499.39 L646.36,499.82 L645.03,500.23 L643.63,500.6 L642.16,500.94 L640.64,501.24 L639.07,501.51 L637.46,501.74 L635.81,501.93 L634.13,502.08 L632.42,502.2 L630.7,502.27 L628.97,502.3 L627.24,502.29 L625.51,502.24 L623.8,502.15 L622.11,502.02 L620.44,501.85 L618.8,501.64 L617.21,501.39 L615.66,501.11 L614.16,500.79 L612.73,500.43 L611.35,500.05 L610.05,499.63 L608.83,499.18 L607.68,498.7 L606.62,498.2 L605.65,497.68 L604.78,497.13 L604,496.56 L603.32,495.98 L602.75,495.38 L602.28,494.77 L601.92,494.14 L601.67,493.52 L601.53,492.88 L601.5,492.25 L601.59,491.61 L601.78,490.98 L602.08,490.36 L602.49,489.74 L603.01,489.14 L603.63,488.54 L604.36,487.97 L605.18,487.41 L606.1,486.87 L607.12,486.36 L608.22,485.87 L609.4,485.4 L610.66,484.97 L612,484.56 L613.4,484.19"/>
<path d="M632.3,481.1 L643.6,480.4 L641.8,485.2 Z" fill="#fff"/>
</g>
<g transform="">
<g stroke="#2e2e2e" stroke-width="0.9" fill="none" stroke-linejoin="round">
<path d="M368.4,451.3 H330.4 V515.9 L344.3,530.4 H368.4 M330.4,515.9 L368.4,516.6"/>
<ellipse cx="343.6" cy="524.1" rx="1.4" ry="2.0" transform="rotate(-20 343.6 524.1)"/>
</g>
<path fill="#fff" stroke="none" d="M368.4,439.2 L368.54,437.9 L368.97,436.6 L369.68,435.3 L370.66,434.02 L371.93,432.76 L373.47,431.51 L375.28,430.28 L377.36,429.07 L379.69,427.9 L382.28,426.75 L385.11,425.64 L388.19,424.56 L391.49,423.53 L395.01,422.54 L398.74,421.59 L402.68,420.7 L406.8,419.85 L411.11,419.06 L415.58,418.32 L420.2,417.64 L424.97,417.01 L429.86,416.45 L434.87,415.95 L439.99,415.52 L445.19,415.15 L450.46,414.84 L455.79,414.61 L461.17,414.44 L466.58,414.33 L472,414.3 L477.42,414.33 L482.83,414.44 L488.21,414.61 L493.54,414.84 L498.81,415.15 L504.01,415.52 L509.13,415.95 L514.14,416.45 L519.03,417.01 L523.8,417.64 L528.42,418.32 L532.89,419.06 L537.2,419.85 L541.32,420.7 L545.26,421.59 L548.99,422.54 L552.51,423.53 L555.81,424.56 L558.89,425.64 L561.72,426.75 L564.31,427.9 L566.64,429.07 L568.72,430.28 L570.53,431.51 L572.07,432.76 L573.34,434.02 L574.32,435.3 L575.03,436.6 L575.46,437.9 L575.6,439.2 L575.6,538.3 L368.4,538.3 Z"/>
<path stroke="#2e2e2e" stroke-width="0.9" fill="none" d="M368.4,538.3 L368.4,439.2 L368.54,437.9 L368.97,436.6 L369.68,435.3 L370.66,434.02 L371.93,432.76 L373.47,431.51 L375.28,430.28 L377.36,429.07 L379.69,427.9 L382.28,426.75 L385.11,425.64 L388.19,424.56 L391.49,423.53 L395.01,422.54 L398.74,421.59 L402.68,420.7 L406.8,419.85 L411.11,419.06 L415.58,418.32 L420.2,417.64 L424.97,417.01 L429.86,416.45 L434.87,415.95 L439.99,415.52 L445.19,415.15 L450.46,414.84 L455.79,414.61 L461.17,414.44 L466.58,414.33 L472,414.3 L477.42,414.33 L482.83,414.44 L488.21,414.61 L493.54,414.84 L498.81,415.15 L504.01,415.52 L509.13,415.95 L514.14,416.45 L519.03,417.01 L523.8,417.64 L528.42,418.32 L532.89,419.06 L537.2,419.85 L541.32,420.7 L545.26,421.59 L548.99,422.54 L552.51,423.53 L555.81,424.56 L558.89,425.64 L561.72,426.75 L564.31,427.9 L566.64,429.07 L568.72,430.28 L570.53,431.51 L572.07,432.76 L573.34,434.02 L574.32,435.3 L575.03,436.6 L575.46,437.9 L575.6,439.2 L575.6,538.3"/>
<path stroke="#2e2e2e" stroke-width="0.9" fill="none" d="M368.4,538.3 L368.54,537.02 L368.97,535.74 L369.68,534.47 L370.66,533.21 L371.93,531.96 L373.47,530.73 L375.28,529.52 L377.36,528.33 L379.69,527.18 L382.28,526.05 L385.11,524.96 L388.19,523.9 L391.49,522.88 L395.01,521.91 L398.74,520.98 L402.68,520.09 L406.8,519.26 L411.11,518.48 L415.58,517.75 L420.2,517.08 L424.97,516.47 L429.86,515.92 L434.87,515.43 L439.99,515 L445.19,514.63 L450.46,514.34 L455.79,514.1 L461.17,513.93 L466.58,513.83 L472,513.8 L477.42,513.83 L482.83,513.93 L488.21,514.1 L493.54,514.34 L498.81,514.63 L504.01,515 L509.13,515.43 L514.14,515.92 L519.03,516.47 L523.8,517.08 L528.42,517.75 L532.89,518.48 L537.2,519.26 L541.32,520.09 L545.26,520.98 L548.99,521.91 L552.51,522.88 L555.81,523.9 L558.89,524.96 L561.72,526.05 L564.31,527.18 L566.64,528.33 L568.72,529.52 L570.53,530.73 L572.07,531.96 L573.34,533.21 L574.32,534.47 L575.03,535.74 L575.46,537.02 L575.6,538.3"/>
<path stroke="#2e2e2e" stroke-width="0.9" fill="none" d="M368.4,538.3 L368.49,539.54 L368.75,540.78 L369.2,542.02 L369.82,543.24 L370.61,544.46 L371.58,545.67 L372.72,546.87 L374.03,548.05 L375.5,549.22 L377.15,550.37 L378.95,551.49 L380.92,552.6 L383.04,553.67 L385.31,554.73"/>
<path stroke="#2e2e2e" stroke-width="0.9" fill="none" d="M575.6,538.3 L575.51,539.54 L575.25,540.78 L574.8,542.02 L574.18,543.24 L573.39,544.46 L572.42,545.67 L571.28,546.87 L569.97,548.05 L568.5,549.22 L566.85,550.37 L565.05,551.49 L563.08,552.6 L560.96,553.67 L558.69,554.73"/>
<path stroke="#2e2e2e" stroke-width="0.9" fill="none" d="M370.7,538.9 L370.78,539.98 L371,541.06 L371.38,542.14 L371.91,543.21 L372.59,544.28 L373.41,545.33 L374.38,546.38 L375.5,547.42 L376.77,548.44 L378.17,549.45 L379.72,550.45 L381.4,551.42 L383.22,552.38 L385.17,553.32"/>
<path stroke="#2e2e2e" stroke-width="0.9" fill="none" d="M573.3,538.9 L573.22,539.98 L573,541.06 L572.62,542.14 L572.09,543.21 L571.41,544.28 L570.59,545.33 L569.62,546.38 L568.5,547.42 L567.23,548.44 L565.83,549.45 L564.28,550.45 L562.6,551.42 L560.78,552.38 L558.83,553.32"/>
<defs><clipPath id="LMu"><path d="M384.8,525.07 L387.09,524.26 L389.52,523.48 L392.07,522.71 L394.75,521.97 L397.56,521.26 L400.48,520.58 L403.51,519.92 L406.65,519.29 L409.9,518.69 L413.24,518.12 L416.68,517.59 L420.2,517.08 L423.8,516.61 L427.48,516.18 L431.24,515.78 L435.05,515.41 L438.93,515.08 L442.85,514.79 L446.82,514.53 L450.84,514.32 L454.88,514.14 L458.95,514 L463.05,513.89 L467.15,513.83 L471.27,513.8 L475.38,513.81 L479.49,513.86 L483.59,513.95 L487.67,514.08 L491.73,514.25 L495.75,514.45 L499.74,514.69 L503.68,514.97 L507.58,515.29 L511.41,515.64 L515.19,516.03 L518.89,516.45 L522.53,516.91 L526.08,517.4 L529.55,517.93 L532.92,518.48 L536.2,519.07 L539.38,519.69 L542.46,520.34 L545.42,521.01 L548.26,521.72 L550.99,522.45 L553.59,523.2 L556.06,523.98 L558.4,524.78 L558.4,562 L558.23,560.78 L557.72,559.57 L556.86,558.36 L555.67,557.18 L554.15,556.01 L552.3,554.86 L550.14,553.74 L547.66,552.65 L544.89,551.6 L541.82,550.6 L538.48,549.63 L534.87,548.72 L531.02,547.86 L526.93,547.05 L522.62,546.31 L518.11,545.62 L513.42,545 L508.56,544.45 L503.55,543.96 L498.42,543.55 L493.19,543.21 L487.86,542.94 L482.48,542.75 L477.05,542.64 L471.6,542.6 L466.15,542.64 L460.72,542.75 L455.34,542.94 L450.01,543.21 L444.78,543.55 L439.65,543.96 L434.64,544.45 L429.78,545 L425.09,545.62 L420.58,546.31 L416.27,547.05 L412.18,547.86 L408.33,548.72 L404.72,549.63 L401.38,550.6 L398.31,551.6 L395.54,552.65 L393.06,553.74 L390.9,554.86 L389.05,556.01 L387.53,557.18 L386.34,558.36 L385.48,559.57 L384.97,560.78 L384.8,562 Z"/></clipPath><clipPath id="LMl"><path d="M384.8,562 L384.97,560.78 L385.48,559.57 L386.34,558.36 L387.53,557.18 L389.05,556.01 L390.9,554.86 L393.06,553.74 L395.54,552.65 L398.31,551.6 L401.38,550.6 L404.72,549.63 L408.33,548.72 L412.18,547.86 L416.27,547.05 L420.58,546.31 L425.09,545.62 L429.78,545 L434.64,544.45 L439.65,543.96 L444.78,543.55 L450.01,543.21 L455.34,542.94 L460.72,542.75 L466.15,542.64 L471.6,542.6 L477.05,542.64 L482.48,542.75 L487.86,542.94 L493.19,543.21 L498.42,543.55 L503.55,543.96 L508.56,544.45 L513.42,545 L518.11,545.62 L522.62,546.31 L526.93,547.05 L531.02,547.86 L534.87,548.72 L538.48,549.63 L541.82,550.6 L544.89,551.6 L547.66,552.65 L550.14,553.74 L552.3,554.86 L554.15,556.01 L555.67,557.18 L556.86,558.36 L557.72,559.57 L558.23,560.78 L558.4,562 L558.4,563 L558.23,564.52 L557.72,566.03 L556.86,567.53 L555.67,569.02 L554.15,570.48 L552.3,571.91 L550.14,573.3 L547.66,574.66 L544.89,575.97 L541.82,577.22 L538.48,578.43 L534.87,579.57 L531.02,580.64 L526.93,581.65 L522.62,582.58 L518.11,583.43 L513.42,584.21 L508.56,584.9 L503.55,585.5 L498.42,586.02 L493.19,586.44 L487.86,586.77 L482.48,587.01 L477.05,587.15 L471.6,587.2 L466.15,587.15 L460.72,587.01 L455.34,586.77 L450.01,586.44 L444.78,586.02 L439.65,585.5 L434.64,584.9 L429.78,584.21 L425.09,583.43 L420.58,582.58 L416.27,581.65 L412.18,580.64 L408.33,579.57 L404.72,578.43 L401.38,577.22 L398.31,575.97 L395.54,574.66 L393.06,573.3 L390.9,571.91 L389.05,570.48 L387.53,569.02 L386.34,567.53 L385.48,566.03 L384.97,564.52 L384.8,563 Z"/></clipPath></defs>
<path fill="#fff" d="M384.8,525.07 L384.8,563 L384.8,563 L384.97,564.52 L385.48,566.03 L386.34,567.53 L387.53,569.02 L389.05,570.48 L390.9,571.91 L393.06,573.3 L395.54,574.66 L398.31,575.97 L401.38,577.22 L404.72,578.43 L408.33,579.57 L412.18,580.64 L416.27,581.65 L420.58,582.58 L425.09,583.43 L429.78,584.21 L434.64,584.9 L439.65,585.5 L444.78,586.02 L450.01,586.44 L455.34,586.77 L460.72,587.01 L466.15,587.15 L471.6,587.2 L477.05,587.15 L482.48,587.01 L487.86,586.77 L493.19,586.44 L498.42,586.02 L503.55,585.5 L508.56,584.9 L513.42,584.21 L518.11,583.43 L522.62,582.58 L526.93,581.65 L531.02,580.64 L534.87,579.57 L538.48,578.43 L541.82,577.22 L544.89,575.97 L547.66,574.66 L550.14,573.3 L552.3,571.91 L554.15,570.48 L555.67,569.02 L556.86,567.53 L557.72,566.03 L558.23,564.52 L558.4,563 L558.4,525.07 Z"/>
<g stroke="#0a0a0a" stroke-width="1.0" fill="none" clip-path="url(#LMu)">
<ellipse cx="388.05" cy="527.09" rx="1.03" ry="2.65"/>
<ellipse cx="390.37" cy="525.47" rx="1.03" ry="2.65"/>
<ellipse cx="394.05" cy="523.92" rx="1.03" ry="2.65"/>
<ellipse cx="399.02" cy="522.45" rx="1.25" ry="2.65"/>
<ellipse cx="405.2" cy="521.08" rx="1.52" ry="2.65"/>
<ellipse cx="412.48" cy="519.85" rx="1.75" ry="2.65"/>
<ellipse cx="420.75" cy="518.78" rx="1.96" ry="2.65"/>
<ellipse cx="429.86" cy="517.87" rx="2.13" ry="2.65"/>
<ellipse cx="439.67" cy="517.15" rx="2.27" ry="2.65"/>
<ellipse cx="450.01" cy="516.62" rx="2.37" ry="2.65"/>
<ellipse cx="460.72" cy="516.31" rx="2.43" ry="2.65"/>
<ellipse cx="471.6" cy="516.2" rx="2.45" ry="2.65"/>
<ellipse cx="482.48" cy="516.31" rx="2.43" ry="2.65"/>
<ellipse cx="493.19" cy="516.62" rx="2.37" ry="2.65"/>
<ellipse cx="503.53" cy="517.15" rx="2.27" ry="2.65"/>
<ellipse cx="513.34" cy="517.87" rx="2.13" ry="2.65"/>
<ellipse cx="522.45" cy="518.78" rx="1.96" ry="2.65"/>
<ellipse cx="530.72" cy="519.85" rx="1.75" ry="2.65"/>
<ellipse cx="538" cy="521.08" rx="1.52" ry="2.65"/>
<ellipse cx="544.18" cy="522.45" rx="1.25" ry="2.65"/>
<ellipse cx="549.15" cy="523.92" rx="1.03" ry="2.65"/>
<ellipse cx="552.83" cy="525.47" rx="1.03" ry="2.65"/>
<ellipse cx="555.15" cy="527.09" rx="1.03" ry="2.65"/>
<ellipse cx="388.05" cy="536.89" rx="1.03" ry="2.65"/>
<ellipse cx="390.37" cy="535.27" rx="1.03" ry="2.65"/>
<ellipse cx="394.05" cy="533.72" rx="1.03" ry="2.65"/>
<ellipse cx="399.02" cy="532.25" rx="1.25" ry="2.65"/>
<ellipse cx="405.2" cy="530.88" rx="1.52" ry="2.65"/>
<ellipse cx="412.48" cy="529.65" rx="1.75" ry="2.65"/>
<ellipse cx="420.75" cy="528.58" rx="1.96" ry="2.65"/>
<ellipse cx="429.86" cy="527.67" rx="2.13" ry="2.65"/>
<ellipse cx="439.67" cy="526.95" rx="2.27" ry="2.65"/>
<ellipse cx="450.01" cy="526.42" rx="2.37" ry="2.65"/>
<ellipse cx="460.72" cy="526.11" rx="2.43" ry="2.65"/>
<ellipse cx="471.6" cy="526" rx="2.45" ry="2.65"/>
<ellipse cx="482.48" cy="526.11" rx="2.43" ry="2.65"/>
<ellipse cx="493.19" cy="526.42" rx="2.37" ry="2.65"/>
<ellipse cx="503.53" cy="526.95" rx="2.27" ry="2.65"/>
<ellipse cx="513.34" cy="527.67" rx="2.13" ry="2.65"/>
<ellipse cx="522.45" cy="528.58" rx="1.96" ry="2.65"/>
<ellipse cx="530.72" cy="529.65" rx="1.75" ry="2.65"/>
<ellipse cx="538" cy="530.88" rx="1.52" ry="2.65"/>
<ellipse cx="544.18" cy="532.25" rx="1.25" ry="2.65"/>
<ellipse cx="549.15" cy="533.72" rx="1.03" ry="2.65"/>
<ellipse cx="552.83" cy="535.27" rx="1.03" ry="2.65"/>
<ellipse cx="555.15" cy="536.89" rx="1.03" ry="2.65"/>
<ellipse cx="388.05" cy="546.89" rx="1.03" ry="2.65"/>
<ellipse cx="390.37" cy="545.27" rx="1.03" ry="2.65"/>
<ellipse cx="394.05" cy="543.72" rx="1.03" ry="2.65"/>
<ellipse cx="399.02" cy="542.25" rx="1.25" ry="2.65"/>
<ellipse cx="405.2" cy="540.88" rx="1.52" ry="2.65"/>
<ellipse cx="412.48" cy="539.65" rx="1.75" ry="2.65"/>
<ellipse cx="420.75" cy="538.58" rx="1.96" ry="2.65"/>
<ellipse cx="429.86" cy="537.67" rx="2.13" ry="2.65"/>
<ellipse cx="439.67" cy="536.95" rx="2.27" ry="2.65"/>
<ellipse cx="450.01" cy="536.42" rx="2.37" ry="2.65"/>
<ellipse cx="460.72" cy="536.11" rx="2.43" ry="2.65"/>
<ellipse cx="471.6" cy="536" rx="2.45" ry="2.65"/>
<ellipse cx="482.48" cy="536.11" rx="2.43" ry="2.65"/>
<ellipse cx="493.19" cy="536.42" rx="2.37" ry="2.65"/>
<ellipse cx="503.53" cy="536.95" rx="2.27" ry="2.65"/>
<ellipse cx="513.34" cy="537.67" rx="2.13" ry="2.65"/>
<ellipse cx="522.45" cy="538.58" rx="1.96" ry="2.65"/>
<ellipse cx="530.72" cy="539.65" rx="1.75" ry="2.65"/>
<ellipse cx="538" cy="540.88" rx="1.52" ry="2.65"/>
<ellipse cx="544.18" cy="542.25" rx="1.25" ry="2.65"/>
<ellipse cx="549.15" cy="543.72" rx="1.03" ry="2.65"/>
<ellipse cx="552.83" cy="545.27" rx="1.03" ry="2.65"/>
<ellipse cx="555.15" cy="546.89" rx="1.03" ry="2.65"/>
<ellipse cx="388.05" cy="556.89" rx="1.03" ry="2.65"/>
<ellipse cx="390.37" cy="555.27" rx="1.03" ry="2.65"/>
<ellipse cx="394.05" cy="553.72" rx="1.03" ry="2.65"/>
<ellipse cx="399.02" cy="552.25" rx="1.25" ry="2.65"/>
<ellipse cx="405.2" cy="550.88" rx="1.52" ry="2.65"/>
<ellipse cx="412.48" cy="549.65" rx="1.75" ry="2.65"/>
<ellipse cx="420.75" cy="548.58" rx="1.96" ry="2.65"/>
<ellipse cx="429.86" cy="547.67" rx="2.13" ry="2.65"/>
<ellipse cx="439.67" cy="546.95" rx="2.27" ry="2.65"/>
<ellipse cx="450.01" cy="546.42" rx="2.37" ry="2.65"/>
<ellipse cx="460.72" cy="546.11" rx="2.43" ry="2.65"/>
<ellipse cx="471.6" cy="546" rx="2.45" ry="2.65"/>
<ellipse cx="482.48" cy="546.11" rx="2.43" ry="2.65"/>
<ellipse cx="493.19" cy="546.42" rx="2.37" ry="2.65"/>
<ellipse cx="503.53" cy="546.95" rx="2.27" ry="2.65"/>
<ellipse cx="513.34" cy="547.67" rx="2.13" ry="2.65"/>
<ellipse cx="522.45" cy="548.58" rx="1.96" ry="2.65"/>
<ellipse cx="530.72" cy="549.65" rx="1.75" ry="2.65"/>
<ellipse cx="538" cy="550.88" rx="1.52" ry="2.65"/>
<ellipse cx="544.18" cy="552.25" rx="1.25" ry="2.65"/>
<ellipse cx="549.15" cy="553.72" rx="1.03" ry="2.65"/>
<ellipse cx="552.83" cy="555.27" rx="1.03" ry="2.65"/>
<ellipse cx="555.15" cy="556.89" rx="1.03" ry="2.65"/>
</g>
<g stroke="#0a0a0a" stroke-width="1.0" fill="none" clip-path="url(#LMl)">
<ellipse cx="390.52" cy="544.69" rx="1.03" ry="2.65"/>
<ellipse cx="392.78" cy="546.71" rx="1.03" ry="2.65"/>
<ellipse cx="396.34" cy="548.65" rx="1.03" ry="2.65"/>
<ellipse cx="401.17" cy="550.49" rx="1.25" ry="2.65"/>
<ellipse cx="407.16" cy="552.19" rx="1.52" ry="2.65"/>
<ellipse cx="414.23" cy="553.73" rx="1.75" ry="2.65"/>
<ellipse cx="422.25" cy="555.08" rx="1.96" ry="2.65"/>
<ellipse cx="431.1" cy="556.21" rx="2.13" ry="2.65"/>
<ellipse cx="440.62" cy="557.11" rx="2.27" ry="2.65"/>
<ellipse cx="450.65" cy="557.77" rx="2.37" ry="2.65"/>
<ellipse cx="461.04" cy="558.17" rx="2.43" ry="2.65"/>
<ellipse cx="471.6" cy="558.3" rx="2.45" ry="2.65"/>
<ellipse cx="482.16" cy="558.17" rx="2.43" ry="2.65"/>
<ellipse cx="492.55" cy="557.77" rx="2.37" ry="2.65"/>
<ellipse cx="502.58" cy="557.11" rx="2.27" ry="2.65"/>
<ellipse cx="512.1" cy="556.21" rx="2.13" ry="2.65"/>
<ellipse cx="520.95" cy="555.08" rx="1.96" ry="2.65"/>
<ellipse cx="528.97" cy="553.73" rx="1.75" ry="2.65"/>
<ellipse cx="536.04" cy="552.19" rx="1.52" ry="2.65"/>
<ellipse cx="542.03" cy="550.49" rx="1.25" ry="2.65"/>
<ellipse cx="546.86" cy="548.65" rx="1.03" ry="2.65"/>
<ellipse cx="550.42" cy="546.71" rx="1.03" ry="2.65"/>
<ellipse cx="552.68" cy="544.69" rx="1.03" ry="2.65"/>
<ellipse cx="390.52" cy="554.49" rx="1.03" ry="2.65"/>
<ellipse cx="392.78" cy="556.51" rx="1.03" ry="2.65"/>
<ellipse cx="396.34" cy="558.45" rx="1.03" ry="2.65"/>
<ellipse cx="401.17" cy="560.29" rx="1.25" ry="2.65"/>
<ellipse cx="407.16" cy="561.99" rx="1.52" ry="2.65"/>
<ellipse cx="414.23" cy="563.53" rx="1.75" ry="2.65"/>
<ellipse cx="422.25" cy="564.88" rx="1.96" ry="2.65"/>
<ellipse cx="431.1" cy="566.01" rx="2.13" ry="2.65"/>
<ellipse cx="440.62" cy="566.91" rx="2.27" ry="2.65"/>
<ellipse cx="450.65" cy="567.57" rx="2.37" ry="2.65"/>
<ellipse cx="461.04" cy="567.97" rx="2.43" ry="2.65"/>
<ellipse cx="471.6" cy="568.1" rx="2.45" ry="2.65"/>
<ellipse cx="482.16" cy="567.97" rx="2.43" ry="2.65"/>
<ellipse cx="492.55" cy="567.57" rx="2.37" ry="2.65"/>
<ellipse cx="502.58" cy="566.91" rx="2.27" ry="2.65"/>
<ellipse cx="512.1" cy="566.01" rx="2.13" ry="2.65"/>
<ellipse cx="520.95" cy="564.88" rx="1.96" ry="2.65"/>
<ellipse cx="528.97" cy="563.53" rx="1.75" ry="2.65"/>
<ellipse cx="536.04" cy="561.99" rx="1.52" ry="2.65"/>
<ellipse cx="542.03" cy="560.29" rx="1.25" ry="2.65"/>
<ellipse cx="546.86" cy="558.45" rx="1.03" ry="2.65"/>
<ellipse cx="550.42" cy="556.51" rx="1.03" ry="2.65"/>
<ellipse cx="552.68" cy="554.49" rx="1.03" ry="2.65"/>
<ellipse cx="390.52" cy="564.39" rx="1.03" ry="2.65"/>
<ellipse cx="392.78" cy="566.41" rx="1.03" ry="2.65"/>
<ellipse cx="396.34" cy="568.35" rx="1.03" ry="2.65"/>
<ellipse cx="401.17" cy="570.19" rx="1.25" ry="2.65"/>
<ellipse cx="407.16" cy="571.89" rx="1.52" ry="2.65"/>
<ellipse cx="414.23" cy="573.43" rx="1.75" ry="2.65"/>
<ellipse cx="422.25" cy="574.78" rx="1.96" ry="2.65"/>
<ellipse cx="431.1" cy="575.91" rx="2.13" ry="2.65"/>
<ellipse cx="440.62" cy="576.81" rx="2.27" ry="2.65"/>
<ellipse cx="450.65" cy="577.47" rx="2.37" ry="2.65"/>
<ellipse cx="461.04" cy="577.87" rx="2.43" ry="2.65"/>
<ellipse cx="471.6" cy="578" rx="2.45" ry="2.65"/>
<ellipse cx="482.16" cy="577.87" rx="2.43" ry="2.65"/>
<ellipse cx="492.55" cy="577.47" rx="2.37" ry="2.65"/>
<ellipse cx="502.58" cy="576.81" rx="2.27" ry="2.65"/>
<ellipse cx="512.1" cy="575.91" rx="2.13" ry="2.65"/>
<ellipse cx="520.95" cy="574.78" rx="1.96" ry="2.65"/>
<ellipse cx="528.97" cy="573.43" rx="1.75" ry="2.65"/>
<ellipse cx="536.04" cy="571.89" rx="1.52" ry="2.65"/>
<ellipse cx="542.03" cy="570.19" rx="1.25" ry="2.65"/>
<ellipse cx="546.86" cy="568.35" rx="1.03" ry="2.65"/>
<ellipse cx="550.42" cy="566.41" rx="1.03" ry="2.65"/>
<ellipse cx="552.68" cy="564.39" rx="1.03" ry="2.65"/>
</g>
<g stroke="#2e2e2e" stroke-width="0.9" fill="none">
<path d="M384.8,525.07 V563 M558.4,525.07 V563"/>
<path d="M558.4,563 L558.28,564.27 L557.92,565.53 L557.33,566.79 L556.5,568.03 L555.44,569.26 L554.15,570.48 L552.63,571.67 L550.9,572.84 L548.94,573.99 L546.77,575.1 L544.4,576.18 L541.82,577.22 L539.06,578.23 L536.1,579.19 L532.98,580.11 L529.68,580.98 L526.23,581.81 L522.62,582.58 L518.87,583.3 L515,583.96 L511.01,584.56 L506.9,585.11 L502.71,585.59 L498.42,586.02 L494.07,586.38 L489.65,586.67 L485.18,586.9 L480.67,587.07 L476.14,587.17 L471.6,587.2 L467.06,587.17 L462.53,587.07 L458.02,586.9 L453.55,586.67 L449.13,586.38 L444.78,586.02 L440.49,585.59 L436.3,585.11 L432.19,584.56 L428.2,583.96 L424.33,583.3 L420.58,582.58 L416.97,581.81 L413.52,580.98 L410.22,580.11 L407.1,579.19 L404.14,578.23 L401.38,577.22 L398.8,576.18 L396.43,575.1 L394.26,573.99 L392.3,572.84 L390.57,571.67 L389.05,570.48 L387.76,569.26 L386.7,568.03 L385.87,566.79 L385.28,565.53 L384.92,564.27 L384.8,563"/>
<path d="M555.38,566.06 L554.72,567.1 L553.87,568.12 L552.84,569.14 L551.62,570.14 L550.22,571.12 L548.64,572.09 L546.89,573.03 L544.96,573.96 L542.87,574.85 L540.62,575.72 L538.21,576.56 L535.64,577.38 L532.93,578.15 L530.08,578.9 L527.1,579.6 L523.99,580.27 L520.77,580.9 L517.43,581.49 L513.99,582.04 L510.45,582.54 L506.82,583 L503.11,583.42 L499.33,583.78 L495.49,584.1 L491.59,584.38 L487.65,584.6 L483.67,584.78 L479.66,584.9 L475.63,584.97 L471.6,585 L467.57,584.97 L463.54,584.9 L459.53,584.78 L455.55,584.6 L451.61,584.38 L447.71,584.1 L443.87,583.78 L440.09,583.42 L436.38,583 L432.75,582.54 L429.21,582.04 L425.77,581.49 L422.43,580.9 L419.21,580.27 L416.1,579.6 L413.12,578.9 L410.27,578.15 L407.56,577.38 L404.99,576.56 L402.58,575.72 L400.33,574.85 L398.24,573.96 L396.31,573.03 L394.56,572.09 L392.98,571.12 L391.58,570.14 L390.36,569.14 L389.33,568.12 L388.48,567.1 L387.82,566.06"/>
<path d="M384.8,562 L384.92,560.98 L385.28,559.97 L385.87,558.97 L386.7,557.97 L387.76,556.98 L389.05,556.01 L390.57,555.05 L392.3,554.11 L394.26,553.19 L396.43,552.3 L398.8,551.43 L401.38,550.6 L404.14,549.79 L407.1,549.02 L410.22,548.28 L413.52,547.58 L416.97,546.92 L420.58,546.31 L424.33,545.73 L428.2,545.2 L432.19,544.71 L436.3,544.28 L440.49,543.89 L444.78,543.55 L449.13,543.26 L453.55,543.02 L458.02,542.84 L462.53,542.71 L467.06,542.63 L471.6,542.6 L476.14,542.63 L480.67,542.71 L485.18,542.84 L489.65,543.02 L494.07,543.26 L498.42,543.55 L502.71,543.89 L506.9,544.28 L511.01,544.71 L515,545.2 L518.87,545.73 L522.62,546.31 L526.23,546.92 L529.68,547.58 L532.98,548.28 L536.1,549.02 L539.06,549.79 L541.82,550.6 L544.4,551.43 L546.77,552.3 L548.94,553.19 L550.9,554.11 L552.63,555.05 L554.15,556.01 L555.44,556.98 L556.5,557.97 L557.33,558.97 L557.92,559.97 L558.28,560.98 L558.4,562"/>
<path d="M387.6,560.34 L388.38,559.48 L389.34,558.63 L390.47,557.79 L391.79,556.96 L393.28,556.15 L394.93,555.36 L396.76,554.58 L398.74,553.82 L400.88,553.09 L403.18,552.37 L405.62,551.68 L408.21,551.02 L410.93,550.38 L413.79,549.78 L416.77,549.2 L419.87,548.65 L423.08,548.14 L426.4,547.66 L429.81,547.21 L433.32,546.8 L436.91,546.43 L440.57,546.09 L444.3,545.79 L448.09,545.53 L451.93,545.31 L455.81,545.12 L459.73,544.98 L463.67,544.88 L467.63,544.82 L471.6,544.8 L475.57,544.82 L479.53,544.88 L483.47,544.98 L487.39,545.12 L491.27,545.31 L495.11,545.53 L498.9,545.79 L502.63,546.09 L506.29,546.43 L509.88,546.8 L513.39,547.21 L516.8,547.66 L520.12,548.14 L523.33,548.65 L526.43,549.2 L529.41,549.78 L532.27,550.38 L534.99,551.02 L537.58,551.68 L540.02,552.37 L542.32,553.09 L544.46,553.82 L546.44,554.58 L548.27,555.36 L549.92,556.15 L551.41,556.96 L552.73,557.79 L553.86,558.63 L554.82,559.48 L555.6,560.34"/>
</g>
</g>
<path d="M236.2,451.4 C247,457 255,470.5 271,473.6 C285,475.2 310,475.6 330.3,476.4" fill="none" stroke="#333" stroke-width="2.9" stroke-linecap="butt"/>
<path d="M236.2,451.4 C247,457 255,470.5 271,473.6 C285,475.2 310,475.6 330.3,476.4" fill="none" stroke="#fff" stroke-width="1.25" stroke-linecap="butt"/>
<path d="M224.2,460.6 C233,468 236,481 252,484.4 C270,487.5 305,489.5 330.3,490.6" fill="none" stroke="#333" stroke-width="2.9" stroke-linecap="butt"/>
<path d="M224.2,460.6 C233,468 236,481 252,484.4 C270,487.5 305,489.5 330.3,490.6" fill="none" stroke="#fff" stroke-width="1.25" stroke-linecap="butt"/>
<path d="M213.6,469.4 C219,478 222,485.5 236,488 C262,492 300,496.6 330.3,500.6" fill="none" stroke="#333" stroke-width="2.9" stroke-linecap="butt"/>
<path d="M213.6,469.4 C219,478 222,485.5 236,488 C262,492 300,496.6 330.3,500.6" fill="none" stroke="#fff" stroke-width="1.25" stroke-linecap="butt"/>
<path stroke="#2e2e2e" stroke-width="0.85" fill="none" d="M105.3,354.9 C106.5,366 110,378 120.7,387.4 C128,393 142,398 150.6,404.4 C154,407 158,409.5 160.4,411.1"/>
<path stroke="#2e2e2e" stroke-width="0.85" fill="none" d="M117.1,354.4 C118.5,361 120,368 124,371 C128,375 138,381 149.6,389.4 C155,393.5 161,399.5 165.5,404.9"/>
<line x1="160.4" y1="411.1" x2="165.5" y2="404.9" stroke="#111" stroke-width="1.4"/>
<path d="M164,406.4 C176,403.6 192,404.6 199,410.5 C203,414 204.5,418 205.6,423" fill="none" stroke="#333" stroke-width="2.9" stroke-linecap="butt"/>
<path d="M164,406.4 C176,403.6 192,404.6 199,410.5 C203,414 204.5,418 205.6,423" fill="none" stroke="#fff" stroke-width="1.25" stroke-linecap="butt"/>
<path d="M164,409.2 C175,412 184,418 189,424 C191,427 192.5,429 193.2,431" fill="none" stroke="#333" stroke-width="2.9" stroke-linecap="butt"/>
<path d="M164,409.2 C175,412 184,418 189,424 C191,427 192.5,429 193.2,431" fill="none" stroke="#fff" stroke-width="1.25" stroke-linecap="butt"/>
<path d="M163.6,409.6 C167,416 166,428 167,436 C167.6,441 170,443.6 174,444.6" fill="none" stroke="#333" stroke-width="2.9" stroke-linecap="butt"/>
<path d="M163.6,409.6 C167,416 166,428 167,436 C167.6,441 170,443.6 174,444.6" fill="none" stroke="#fff" stroke-width="1.25" stroke-linecap="butt"/>
<polygon stroke="#2e2e2e" stroke-width="0.85" fill="#fff" stroke-linejoin="round" points="197.5,423.5 230.8,443.3 240.5,439.4 207.2,419.6"/>
<polygon stroke="#2e2e2e" stroke-width="0.85" fill="#fff" stroke-linejoin="round" points="197.5,423.5 230.8,443.3 230.8,461.1 197.5,441.3"/>
<polygon stroke="#2e2e2e" stroke-width="0.85" fill="#fff" stroke-linejoin="round" points="230.8,443.3 240.5,439.4 240.5,457.2 230.8,461.1"/>
<polygon stroke="#2e2e2e" stroke-width="0.85" fill="#fff" stroke-linejoin="round" points="232.45,444.42 238.85,441.84 238.85,456.79 232.45,459.37"/>
<polygon stroke="#2e2e2e" stroke-width="0.85" fill="#fff" stroke-linejoin="round" points="233.9,445.61 237.4,444.21 237.4,450.44 233.9,451.84"/>
<path stroke="#2e2e2e" stroke-width="0.85" fill="#fff" stroke-linejoin="round" d="M207.7,418.2 V429.4 A4.8,2.9 0 0 0 217.3,429.4 V418.2 Z"/>
<ellipse cx="212.5" cy="418.2" rx="4.8" ry="2.9" fill="#fff" stroke="#1a1a1a" stroke-width="1.3"/>
<path stroke="#2e2e2e" stroke-width="0.85" fill="#fff" stroke-linejoin="round" d="M224.1,427.4 V438.6 A4.8,2.9 0 0 0 233.7,438.6 V427.4 Z"/>
<ellipse cx="228.9" cy="427.4" rx="4.8" ry="2.9" fill="#fff" stroke="#1a1a1a" stroke-width="1.3"/>
<polygon stroke="#2e2e2e" stroke-width="0.85" fill="#fff" stroke-linejoin="round" points="185.4,432.7 218.7,452.5 228.4,448.6 195.1,428.8"/>
<polygon stroke="#2e2e2e" stroke-width="0.85" fill="#fff" stroke-linejoin="round" points="185.4,432.7 218.7,452.5 218.7,470.3 185.4,450.5"/>
<polygon stroke="#2e2e2e" stroke-width="0.85" fill="#fff" stroke-linejoin="round" points="218.7,452.5 228.4,448.6 228.4,466.4 218.7,470.3"/>
<polygon stroke="#2e2e2e" stroke-width="0.85" fill="#fff" stroke-linejoin="round" points="220.35,453.62 226.75,451.04 226.75,466 220.35,468.57"/>
<polygon stroke="#2e2e2e" stroke-width="0.85" fill="#fff" stroke-linejoin="round" points="221.8,454.81 225.3,453.41 225.3,459.64 221.8,461.04"/>
<path stroke="#2e2e2e" stroke-width="0.85" fill="#fff" stroke-linejoin="round" d="M194.2,424.5 V435.7 A4.8,2.9 0 0 0 203.8,435.7 V424.5 Z"/>
<ellipse cx="199" cy="424.5" rx="4.8" ry="2.9" fill="#fff" stroke="#1a1a1a" stroke-width="1.3"/>
<path stroke="#2e2e2e" stroke-width="0.85" fill="#fff" stroke-linejoin="round" d="M212,435.1 V446.3 A4.8,2.9 0 0 0 221.6,446.3 V435.1 Z"/>
<ellipse cx="216.8" cy="435.1" rx="4.8" ry="2.9" fill="#fff" stroke="#1a1a1a" stroke-width="1.3"/>
<polygon stroke="#2e2e2e" stroke-width="0.85" fill="#fff" stroke-linejoin="round" points="174.3,441.4 207.6,461.2 217.3,457.3 184,437.5"/>
<polygon stroke="#2e2e2e" stroke-width="0.85" fill="#fff" stroke-linejoin="round" points="174.3,441.4 207.6,461.2 207.6,479 174.3,459.2"/>
<polygon stroke="#2e2e2e" stroke-width="0.85" fill="#fff" stroke-linejoin="round" points="207.6,461.2 217.3,457.3 217.3,475.1 207.6,479"/>
<polygon stroke="#2e2e2e" stroke-width="0.85" fill="#fff" stroke-linejoin="round" points="209.25,462.32 215.65,459.74 215.65,474.69 209.25,477.27"/>
<polygon stroke="#2e2e2e" stroke-width="0.85" fill="#fff" stroke-linejoin="round" points="210.7,463.51 214.2,462.11 214.2,468.34 210.7,469.74"/>
<path stroke="#2e2e2e" stroke-width="0.85" fill="#fff" stroke-linejoin="round" d="M183.1,432.7 V443.9 A4.8,2.9 0 0 0 192.7,443.9 V432.7 Z"/>
<ellipse cx="187.9" cy="432.7" rx="4.8" ry="2.9" fill="#fff" stroke="#1a1a1a" stroke-width="1.3"/>
<path stroke="#2e2e2e" stroke-width="0.85" fill="#fff" stroke-linejoin="round" d="M199.2,442.8 V454 A4.8,2.9 0 0 0 208.8,454 V442.8 Z"/>
<ellipse cx="204" cy="442.8" rx="4.8" ry="2.9" fill="#fff" stroke="#1a1a1a" stroke-width="1.3"/>
<path fill="#fff" stroke="none" d="M230.4,341 V309.6 Q230.6,307.2 232.3,307.3 Q234.0,307.5 234.1,309.6 L238,311.2 L241.4,313.4 V341 Q239.5,343.5 236,343.6 Q232.4,343.5 230.4,341 Z"/>
<path stroke="#2e2e2e" stroke-width="0.85" fill="none" d="M230.4,341 V309.6 Q230.6,307.2 232.3,307.3 Q234.0,307.5 234.1,309.6 V341.6"/>
<path stroke="#2e2e2e" stroke-width="0.85" fill="none" d="M230.4,341 Q232.4,343.5 236,343.6 Q239.5,343.5 241.4,341"/>
<line x1="238" y1="311" x2="238" y2="342.8" stroke="#2e2e2e" stroke-width="0.85"/>
<line x1="241.4" y1="313.4" x2="241.4" y2="341" stroke="#777" stroke-width="0.85"/>
<rect stroke="#2e2e2e" stroke-width="0.85" fill="#fff" stroke-linejoin="round" x="229.4" y="345.0" width="12.6" height="4.6" rx="2.3"/>
<path stroke="#2e2e2e" stroke-width="0.85" fill="none" d="M231.2,343.6 Q236,346 240.6,343.6"/>
<rect stroke="#2e2e2e" stroke-width="0.85" fill="#fff" stroke-linejoin="round" x="233.6" y="349.6" width="5.2" height="52.6"/>
<path stroke="#2e2e2e" stroke-width="0.85" fill="#fff" stroke-linejoin="round" d="M233.6,402.2 L234.4,406.4 L235.6,409.6 H236.9 L238.1,406.4 L238.8,402.2 Z"/>
<line x1="234.4" y1="406.3" x2="238.1" y2="406.3" stroke="#2e2e2e" stroke-width="0.7"/>
<path stroke="#2e2e2e" stroke-width="0.85" fill="none" d="M232.6,382.0 C224,382.5 217,384.5 217.2,387.6 C217.6,390.4 222,392.3 226.8,392.6"/>
<path stroke="#2e2e2e" stroke-width="0.85" fill="none" d="M232.6,383.6 C225,384.2 219.2,385.6 219.2,387.8 C219.6,389.6 222.5,390.8 226.2,391.1"/>
<path stroke="#2e2e2e" stroke-width="0.85" fill="none" d="M225.6,388.8 L228.2,392.2 L223.6,394.8"/>
<path stroke="#2e2e2e" stroke-width="0.85" fill="none" d="M239.8,382.0 C249,382.5 256.4,384.5 256.2,387.4 C255.8,390 252.6,392 249.6,392.8"/>
<path stroke="#2e2e2e" stroke-width="0.85" fill="none" d="M239.8,383.6 C247,384.2 254.2,385.6 254.2,387.6 C254,389.4 251.6,390.8 249.2,391.2 L249.6,392.8"/>
</svg>
</body></html>
